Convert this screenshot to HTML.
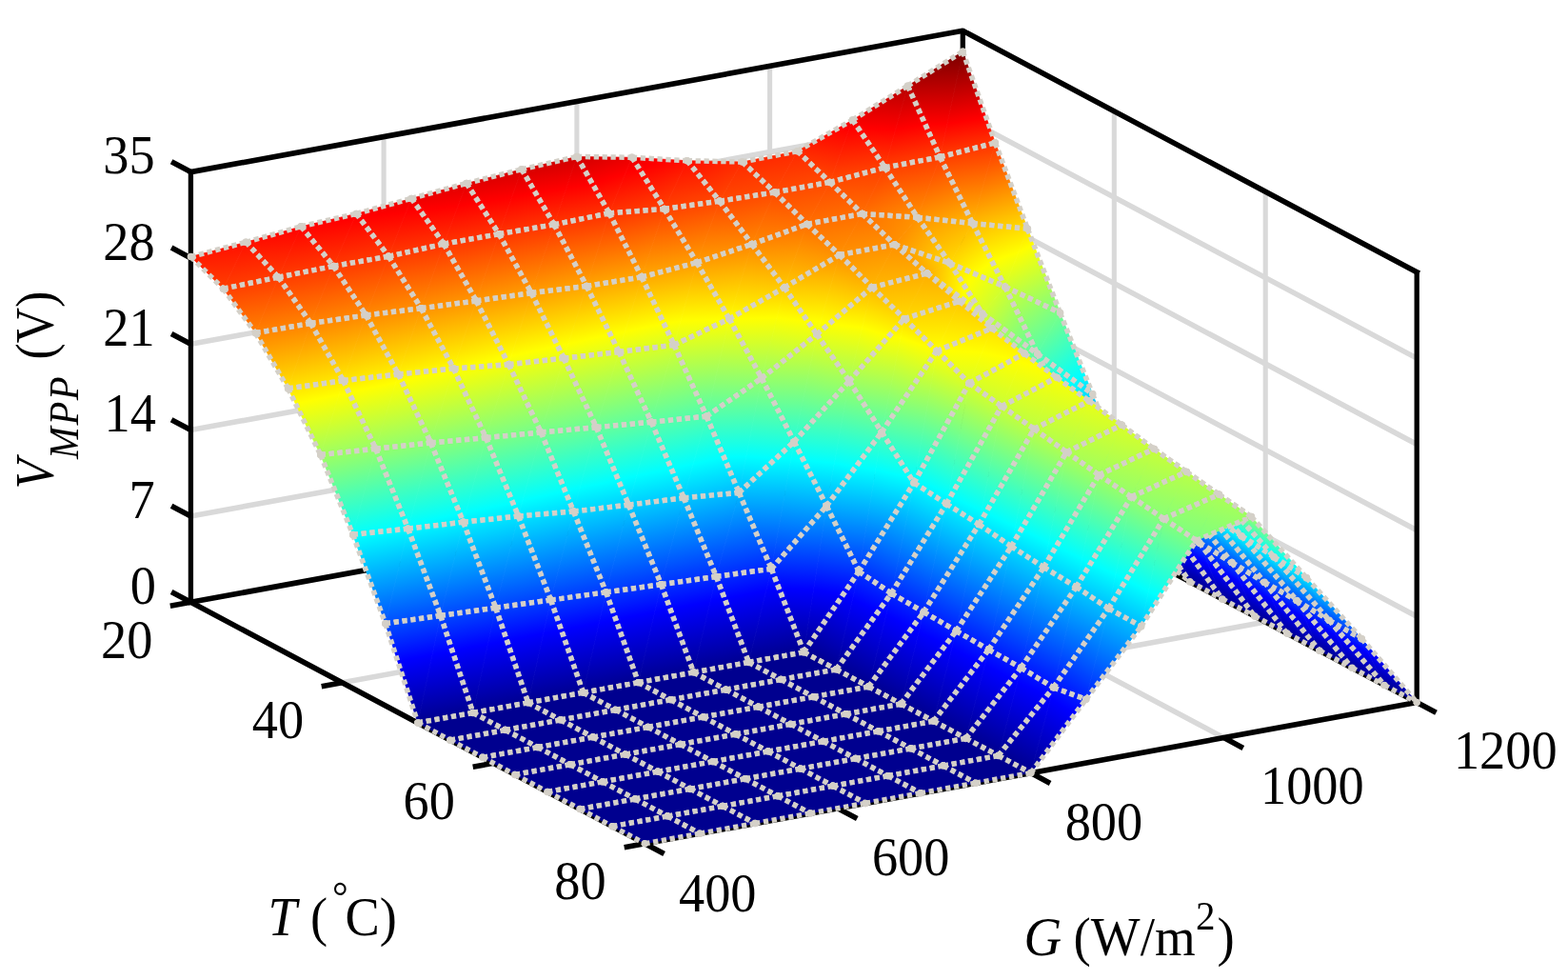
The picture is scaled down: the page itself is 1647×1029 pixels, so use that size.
<!DOCTYPE html>
<html lang="en"><head><meta charset="utf-8"><title>V_MPP surface</title>
<style>html,body{margin:0;padding:0;background:#fff}body{width:1647px;height:1029px;overflow:hidden}svg{display:block}text{font-family:"Liberation Serif",serif;fill:#000}</style></head><body>
<svg width="1647" height="1029" viewBox="0 0 1647 1029">
<rect width="1647" height="1029" fill="#fff"/>
<g fill="none" stroke="#d9d9d9"><path d="M200.4 542L1011.3 393.7M200.4 451.6L1011.3 303.3M200.4 361.3L1011.3 213M200.4 270.9L1011.3 122.6M1011.3 393.7L1488.2 647.2M1011.3 303.3L1488.2 556.8M1011.3 213L1488.2 466.5M1011.3 122.6L1488.2 376.1M359.4 716.8L1170.3 568.5M518.3 801.3L1329.2 653M403.1 595.2L880 848.7M605.9 558.1L1082.8 811.6M808.6 521.1L1285.5 774.6" stroke-width="5.6"/><path d="M403.1 595.2L403.1 143.5M605.9 558.1L605.9 106.4M808.6 521.1L808.6 69.4M1170.3 568.5L1170.3 116.8M1329.2 653L1329.2 201.3" stroke-width="5.1"/></g>
<g fill="none" stroke="#000" stroke-linejoin="bevel" stroke-linecap="square"><path d="M200.4 180.6L1011.3 32.3L1488.2 285.8M1488.2 737.5L677.3 885.8L200.4 632.3M200.4 632.3L1011.3 484L1488.2 737.5" stroke-width="5.7"/><path d="M200.4 632.3L200.4 180.6M1488.2 285.8L1488.2 737.5M1011.3 32.3L1011.3 484" stroke-width="5.3" stroke-linecap="butt"/></g>
<path d="M200.4 632.3L180.1 621.5M200.4 542L180.1 531.2M200.4 451.6L180.1 440.8M200.4 361.3L180.1 350.5M200.4 270.9L180.1 260.1M200.4 180.6L180.1 169.8M677.3 885.8L697.6 896.6M880 848.7L900.3 859.5M1082.8 811.6L1103.1 822.4M1285.5 774.6L1305.8 785.4M1488.2 737.5L1508.5 748.3M200.4 632.3L178.8 636.3M359.4 716.8L337.7 720.8M518.3 801.3L496.7 805.3M677.3 885.8L655.7 889.8" fill="none" stroke="#000" stroke-width="5.7"/>
<defs><linearGradient id="J" gradientUnits="userSpaceOnUse"><stop offset="0" stop-color="#00008f"/><stop offset="0.125" stop-color="#0000ff"/><stop offset="0.375" stop-color="#00ffff"/><stop offset="0.625" stop-color="#ffff00"/><stop offset="0.875" stop-color="#ff0000"/><stop offset="1" stop-color="#800000"/></linearGradient><linearGradient id="g1" href="#J" x1="971.5" y1="631.4" x2="952.4" y2="59.7"/><linearGradient id="g2" href="#J" x1="1098.8" y1="600.2" x2="1011.9" y2="57.6"/><linearGradient id="g3" href="#J" x1="870.1" y1="701.6" x2="898.7" y2="53.1"/><linearGradient id="g4" href="#J" x1="1053.8" y1="649.5" x2="947.7" y2="58.7"/><linearGradient id="g5" href="#J" x1="736.4" y1="815" x2="857.4" y2="29.8"/><linearGradient id="g6" href="#J" x1="974.4" y1="761.1" x2="885.5" y2="45.6"/><linearGradient id="g7" href="#J" x1="932" y1="1111.3" x2="749.3" y2="-17.1"/><linearGradient id="g8" href="#J" x1="1008" y1="1081.7" x2="804" y2="-22.6"/><linearGradient id="g9" href="#J" x1="1060.4" y1="890.1" x2="667.5" y2="53.3"/><linearGradient id="g10" href="#J" x1="995.4" y1="1141" x2="736.7" y2="-23"/><linearGradient id="g11" href="#J" x1="907.8" y1="784.9" x2="635.1" y2="92.5"/><linearGradient id="g12" href="#J" x1="884.4" y1="887.8" x2="695.7" y2="53.7"/><linearGradient id="g13" href="#J" x1="801.4" y1="772.3" x2="589.2" y2="112.8"/><linearGradient id="g14" href="#J" x1="828.8" y1="790.7" x2="644.4" y2="91.8"/><linearGradient id="g15" href="#J" x1="641.6" y1="782.7" x2="539.2" y2="121.7"/><linearGradient id="g16" href="#J" x1="707.4" y1="768.3" x2="597.2" y2="113.1"/><linearGradient id="g17" href="#J" x1="576" y1="817.8" x2="481" y2="127.3"/><linearGradient id="g18" href="#J" x1="663.9" y1="787" x2="537.2" y2="121.3"/><linearGradient id="g19" href="#J" x1="507.1" y1="864.1" x2="423.1" y2="129.9"/><linearGradient id="g20" href="#J" x1="607.3" y1="825.7" x2="477.8" y2="126.5"/><linearGradient id="g21" href="#J" x1="446.8" y1="897.9" x2="364.3" y2="133"/><linearGradient id="g22" href="#J" x1="531.1" y1="873.1" x2="420.2" y2="128.8"/><linearGradient id="g23" href="#J" x1="414.6" y1="957.5" x2="302.1" y2="134"/><linearGradient id="g24" href="#J" x1="506.3" y1="919.8" x2="356.2" y2="130"/><linearGradient id="g25" href="#J" x1="311.5" y1="1020" x2="249.7" y2="129.7"/><linearGradient id="g26" href="#J" x1="435.6" y1="966.1" x2="299" y2="132.8"/><linearGradient id="g27" href="#J" x1="263.1" y1="1111" x2="189.3" y2="119.9"/><linearGradient id="g28" href="#J" x1="380" y1="1059.8" x2="238.5" y2="123.2"/><linearGradient id="g29" href="#J" x1="1061.1" y1="658.3" x2="970.6" y2="52.3"/><linearGradient id="g30" href="#J" x1="1177.2" y1="600.5" x2="1017.2" y2="53.9"/><linearGradient id="g31" href="#J" x1="1031.3" y1="749.6" x2="906.1" y2="44.1"/><linearGradient id="g32" href="#J" x1="1159.8" y1="655.3" x2="948.1" y2="53"/><linearGradient id="g33" href="#J" x1="927.5" y1="994.4" x2="857.8" y2="-7.2"/><linearGradient id="g34" href="#J" x1="1168.8" y1="750.4" x2="874.5" y2="43.9"/><linearGradient id="g35" href="#J" x1="972" y1="1059.4" x2="774.5" y2="-10"/><linearGradient id="g36" href="#J" x1="1024.8" y1="1054.5" x2="833.7" y2="-22.1"/><linearGradient id="g37" href="#J" x1="884.3" y1="846.2" x2="724.6" y2="57.2"/><linearGradient id="g38" href="#J" x1="797.5" y1="931" x2="817.7" y2="21.8"/><linearGradient id="g39" href="#J" x1="813.6" y1="770.3" x2="670.7" y2="90.6"/><linearGradient id="g40" href="#J" x1="797.4" y1="811.8" x2="745.7" y2="65.6"/><linearGradient id="g41" href="#J" x1="763.2" y1="735.6" x2="613.8" y2="115.3"/><linearGradient id="g42" href="#J" x1="771.5" y1="761.6" x2="680.6" y2="92.6"/><linearGradient id="g43" href="#J" x1="669.6" y1="752.4" x2="562.9" y2="123.7"/><linearGradient id="g44" href="#J" x1="738.2" y1="734.6" x2="619.1" y2="115.5"/><linearGradient id="g45" href="#J" x1="624.6" y1="775.8" x2="502.5" y2="131.9"/><linearGradient id="g46" href="#J" x1="693.7" y1="754.9" x2="557.7" y2="123.1"/><linearGradient id="g47" href="#J" x1="565.8" y1="795.6" x2="444.8" y2="140.7"/><linearGradient id="g48" href="#J" x1="633.1" y1="776.8" x2="500.7" y2="131.7"/><linearGradient id="g49" href="#J" x1="495.1" y1="829.6" x2="388.9" y2="144.4"/><linearGradient id="g50" href="#J" x1="580.9" y1="797.5" x2="441.6" y2="140.3"/><linearGradient id="g51" href="#J" x1="460.6" y1="864.1" x2="325.9" y2="150"/><linearGradient id="g52" href="#J" x1="534.8" y1="837.1" x2="380" y2="142.7"/><linearGradient id="g53" href="#J" x1="394.1" y1="896.7" x2="269.5" y2="154.8"/><linearGradient id="g54" href="#J" x1="474" y1="866.7" x2="322.9" y2="149.5"/><linearGradient id="g55" href="#J" x1="334.6" y1="922.9" x2="211.4" y2="160.4"/><linearGradient id="g56" href="#J" x1="407.6" y1="900.3" x2="266.4" y2="154"/><linearGradient id="g57" href="#J" x1="1174.7" y1="661" x2="953.8" y2="46.1"/><linearGradient id="g58" href="#J" x1="1251.5" y1="574" x2="988.9" y2="64.8"/><linearGradient id="g59" href="#J" x1="1252.1" y1="768.4" x2="858.3" y2="31.4"/><linearGradient id="g60" href="#J" x1="1285.5" y1="601" x2="904.8" y2="72.6"/><linearGradient id="g61" href="#J" x1="1745" y1="902.9" x2="649.7" y2="17.8"/><linearGradient id="g62" href="#J" x1="1424" y1="606.1" x2="795.5" y2="90.6"/><linearGradient id="g63" href="#J" x1="999.5" y1="1092.1" x2="801.3" y2="-26.5"/><linearGradient id="g64" href="#J" x1="1057.6" y1="1081.8" x2="859.3" y2="-36.8"/><linearGradient id="g65" href="#J" x1="817.7" y1="801.5" x2="780.1" y2="66.3"/><linearGradient id="g66" href="#J" x1="746.4" y1="828.4" x2="878.7" y2="54.2"/><linearGradient id="g67" href="#J" x1="780" y1="741.6" x2="713.3" y2="95.5"/><linearGradient id="g68" href="#J" x1="765.4" y1="762.5" x2="798.4" y2="79.9"/><linearGradient id="g69" href="#J" x1="737.2" y1="717.1" x2="648.2" y2="117.1"/><linearGradient id="g70" href="#J" x1="751.7" y1="730.4" x2="724.2" y2="99.8"/><linearGradient id="g71" href="#J" x1="699.7" y1="736.1" x2="582.3" y2="124.9"/><linearGradient id="g72" href="#J" x1="763.9" y1="719.6" x2="637.3" y2="116.1"/><linearGradient id="g73" href="#J" x1="652.2" y1="750.2" x2="521.7" y2="136.2"/><linearGradient id="g74" href="#J" x1="710.7" y1="736.7" x2="577.9" y2="124.7"/><linearGradient id="g75" href="#J" x1="591.7" y1="767" x2="465.7" y2="145.8"/><linearGradient id="g76" href="#J" x1="654.8" y1="750.3" x2="520.7" y2="136.1"/><linearGradient id="g77" href="#J" x1="540.3" y1="791.1" x2="406.5" y2="153.2"/><linearGradient id="g78" href="#J" x1="609.2" y1="767.7" x2="459.1" y2="145.6"/><linearGradient id="g79" href="#J" x1="487.4" y1="808.5" x2="348.2" y2="163.6"/><linearGradient id="g80" href="#J" x1="549.1" y1="791.7" x2="403.3" y2="153"/><linearGradient id="g81" href="#J" x1="426.5" y1="827.8" x2="292.2" y2="172.6"/><linearGradient id="g82" href="#J" x1="491.4" y1="808.8" x2="346.8" y2="163.5"/><linearGradient id="g83" href="#J" x1="361.7" y1="846.2" x2="236.8" y2="180.9"/><linearGradient id="g84" href="#J" x1="427.8" y1="828" x2="291.8" y2="172.6"/><linearGradient id="g85" href="#J" x1="1267.7" y1="598.5" x2="901.9" y2="85.8"/><linearGradient id="g86" href="#J" x1="1284.6" y1="543.2" x2="936.3" y2="106.1"/><linearGradient id="g87" href="#J" x1="1376" y1="580.2" x2="805.2" y2="121.8"/><linearGradient id="g88" href="#J" x1="1316.1" y1="512.8" x2="866.9" y2="147.9"/><linearGradient id="g89" href="#J" x1="1348.3" y1="57.7" x2="791" y2="329.5"/><linearGradient id="g90" href="#J" x1="1336.1" y1="332" x2="825.5" y2="248.1"/><linearGradient id="g91" href="#J" x1="1017.2" y1="1029.2" x2="832.4" y2="-10.2"/><linearGradient id="g92" href="#J" x1="990.8" y1="1093.7" x2="921.1" y2="-47.7"/><linearGradient id="g93" href="#J" x1="806.9" y1="747" x2="832" y2="89.9"/><linearGradient id="g94" href="#J" x1="767.6" y1="749.9" x2="923.5" y2="91.8"/><linearGradient id="g95" href="#J" x1="773.5" y1="715" x2="761.4" y2="106.8"/><linearGradient id="g96" href="#J" x1="780.3" y1="722.3" x2="844.7" y2="101.6"/><linearGradient id="g97" href="#J" x1="734.1" y1="701.8" x2="689.6" y2="122.1"/><linearGradient id="g98" href="#J" x1="759.4" y1="707.4" x2="769.9" y2="111.4"/><linearGradient id="g99" href="#J" x1="723.8" y1="722.6" x2="599.6" y2="127.7"/><linearGradient id="g100" href="#J" x1="783.3" y1="708.5" x2="654.8" y2="117.3"/><linearGradient id="g101" href="#J" x1="669.7" y1="737.4" x2="541.1" y2="138"/><linearGradient id="g102" href="#J" x1="729.4" y1="722.6" x2="595.8" y2="127.6"/><linearGradient id="g103" href="#J" x1="614.3" y1="752.2" x2="483.6" y2="148.6"/><linearGradient id="g104" href="#J" x1="673.7" y1="737.5" x2="538.4" y2="138"/><linearGradient id="g105" href="#J" x1="564.4" y1="762.5" x2="423.9" y2="163.6"/><linearGradient id="g106" href="#J" x1="617.2" y1="752.3" x2="481.7" y2="148.6"/><linearGradient id="g107" href="#J" x1="503" y1="776.4" x2="370.4" y2="175.1"/><linearGradient id="g108" href="#J" x1="561.1" y1="762.5" x2="425.9" y2="163.5"/><linearGradient id="g109" href="#J" x1="444.8" y1="789.3" x2="314.5" y2="187.1"/><linearGradient id="g110" href="#J" x1="502.1" y1="776.4" x2="370.8" y2="175.1"/><linearGradient id="g111" href="#J" x1="383.2" y1="805.4" x2="259.7" y2="196.2"/><linearGradient id="g112" href="#J" x1="445.6" y1="789.3" x2="314.1" y2="187.1"/><linearGradient id="g113" href="#J" x1="1304.2" y1="527.4" x2="835.3" y2="186.8"/><linearGradient id="g114" href="#J" x1="1280.3" y1="513.8" x2="882.7" y2="214.3"/><linearGradient id="g115" href="#J" x1="1298" y1="321.8" x2="839.9" y2="334.7"/><linearGradient id="g116" href="#J" x1="1275.3" y1="414.4" x2="869.5" y2="320.8"/><linearGradient id="g117" href="#J" x1="1007.7" y1="250.8" x2="959.6" y2="302.2"/><linearGradient id="g118" href="#J" x1="1124.6" y1="289.9" x2="964.8" y2="357.7"/><linearGradient id="g119" href="#J" x1="973.1" y1="1014.9" x2="890.8" y2="-10.8"/><linearGradient id="g120" href="#J" x1="956.9" y1="1053.4" x2="980.9" y2="-33.6"/><linearGradient id="g121" href="#J" x1="813.6" y1="720.9" x2="887" y2="109.2"/><linearGradient id="g122" href="#J" x1="789" y1="713.2" x2="971.5" y2="121.5"/><linearGradient id="g123" href="#J" x1="790.5" y1="697.8" x2="808.8" y2="121.4"/><linearGradient id="g124" href="#J" x1="796.8" y1="699.8" x2="898" y2="123"/><linearGradient id="g125" href="#J" x1="749" y1="689.7" x2="733.7" y2="131.9"/><linearGradient id="g126" href="#J" x1="781.9" y1="692.4" x2="816.7" y2="126.4"/><linearGradient id="g127" href="#J" x1="741.6" y1="710.7" x2="617.6" y2="133.4"/><linearGradient id="g128" href="#J" x1="799.2" y1="697.7" x2="673.1" y2="122.2"/><linearGradient id="g129" href="#J" x1="685.9" y1="720.7" x2="560.4" y2="148.6"/><linearGradient id="g130" href="#J" x1="739.3" y1="710.7" x2="620.3" y2="133.4"/><linearGradient id="g131" href="#J" x1="628.9" y1="731.1" x2="504.8" y2="162.9"/><linearGradient id="g132" href="#J" x1="682.9" y1="720.7" x2="563.8" y2="148.5"/><linearGradient id="g133" href="#J" x1="572.1" y1="744.2" x2="448.5" y2="174.3"/><linearGradient id="g134" href="#J" x1="629.6" y1="731.1" x2="504" y2="163"/><linearGradient id="g135" href="#J" x1="515.9" y1="755.3" x2="392" y2="187.8"/><linearGradient id="g136" href="#J" x1="570.8" y1="744.2" x2="449.8" y2="174.3"/><linearGradient id="g137" href="#J" x1="457.1" y1="766.6" x2="337.3" y2="200.5"/><linearGradient id="g138" href="#J" x1="512.7" y1="755.4" x2="395" y2="187.7"/><linearGradient id="g139" href="#J" x1="400.4" y1="778.8" x2="280.5" y2="212.3"/><linearGradient id="g140" href="#J" x1="457.3" y1="766.6" x2="337" y2="200.5"/><linearGradient id="g141" href="#J" x1="1255.6" y1="454.7" x2="869" y2="409.7"/><linearGradient id="g142" href="#J" x1="1243.7" y1="517.4" x2="890" y2="415.6"/><linearGradient id="g143" href="#J" x1="1130.5" y1="345.2" x2="1003.6" y2="409.3"/><linearGradient id="g144" href="#J" x1="1190.9" y1="426.1" x2="994" y2="464.9"/><linearGradient id="g145" href="#J" x1="974.2" y1="360.6" x2="1023.8" y2="295.5"/><linearGradient id="g146" href="#J" x1="1064.6" y1="378.8" x2="1066.9" y2="377"/><linearGradient id="g147" href="#J" x1="964.6" y1="955.6" x2="942.4" y2="15.8"/><linearGradient id="g148" href="#J" x1="925.7" y1="987.6" x2="1046.8" y2="-1.4"/><linearGradient id="g149" href="#J" x1="844.5" y1="701.5" x2="933.9" y2="135.2"/><linearGradient id="g150" href="#J" x1="828" y1="690" x2="1012.6" y2="152.2"/><linearGradient id="g151" href="#J" x1="813.1" y1="688.8" x2="864.6" y2="137.4"/><linearGradient id="g152" href="#J" x1="836.1" y1="690.6" x2="941.3" y2="144.8"/><linearGradient id="g153" href="#J" x1="772.2" y1="685.2" x2="785.2" y2="139.1"/><linearGradient id="g154" href="#J" x1="811.5" y1="687.5" x2="866.9" y2="139.2"/><linearGradient id="g155" href="#J" x1="757.8" y1="704.6" x2="633.9" y2="135.5"/><linearGradient id="g156" href="#J" x1="811.6" y1="694.4" x2="696.2" y2="118.4"/><linearGradient id="g157" href="#J" x1="698.3" y1="715.6" x2="582.2" y2="148.5"/><linearGradient id="g158" href="#J" x1="754.4" y1="704.7" x2="641.2" y2="135.3"/><linearGradient id="g159" href="#J" x1="641.6" y1="726.4" x2="524.9" y2="162.3"/><linearGradient id="g160" href="#J" x1="697.2" y1="715.7" x2="584.5" y2="148.5"/><linearGradient id="g161" href="#J" x1="586.9" y1="736.2" x2="465.4" y2="179.6"/><linearGradient id="g162" href="#J" x1="639.9" y1="726.4" x2="528.1" y2="162.3"/><linearGradient id="g163" href="#J" x1="528.1" y1="746.8" x2="412.4" y2="193.9"/><linearGradient id="g164" href="#J" x1="582.9" y1="736.4" x2="472.8" y2="179.3"/><linearGradient id="g165" href="#J" x1="470" y1="757.6" x2="357.4" y2="207.1"/><linearGradient id="g166" href="#J" x1="525.7" y1="746.9" x2="416.7" y2="193.7"/><linearGradient id="g167" href="#J" x1="413.8" y1="767.9" x2="299.8" y2="221.4"/><linearGradient id="g168" href="#J" x1="468.5" y1="757.6" x2="360.1" y2="206.9"/><linearGradient id="g169" href="#J" x1="1136.7" y1="534.3" x2="1226.3" y2="399.8"/><linearGradient id="g170" href="#J" x1="1213.5" y1="585.3" x2="1302.7" y2="458.2"/><linearGradient id="g171" href="#J" x1="1060.5" y1="484.4" x2="1149.3" y2="349"/><linearGradient id="g172" href="#J" x1="1136.9" y1="534" x2="1225.6" y2="400.9"/><linearGradient id="g173" href="#J" x1="983.3" y1="432.9" x2="1072.9" y2="298.3"/><linearGradient id="g174" href="#J" x1="1060.1" y1="485.1" x2="1149.7" y2="348.2"/><linearGradient id="g175" href="#J" x1="955.9" y1="910.2" x2="1000.9" y2="42"/><linearGradient id="g176" href="#J" x1="903.9" y1="924.8" x2="1114.8" y2="38.7"/><linearGradient id="g177" href="#J" x1="874.7" y1="693.6" x2="989.2" y2="159.5"/><linearGradient id="g178" href="#J" x1="866.8" y1="682.5" x2="1054.7" y2="179.2"/><linearGradient id="g179" href="#J" x1="848" y1="687.3" x2="917" y2="153.6"/><linearGradient id="g180" href="#J" x1="871.7" y1="688.8" x2="992.9" y2="165.4"/><linearGradient id="g181" href="#J" x1="806.3" y1="683.2" x2="830.4" y2="155.1"/><linearGradient id="g182" href="#J" x1="845.5" y1="685.1" x2="923" y2="159"/><linearGradient id="g183" href="#J" x1="770.7" y1="698.6" x2="661.3" y2="145.4"/><linearGradient id="g184" href="#J" x1="826.8" y1="688.1" x2="724.7" y2="129.7"/><linearGradient id="g185" href="#J" x1="713.2" y1="709.1" x2="605.3" y2="160.5"/><linearGradient id="g186" href="#J" x1="769.3" y1="698.6" x2="668.2" y2="145.3"/><linearGradient id="g187" href="#J" x1="655.6" y1="719.6" x2="548.8" y2="175.2"/><linearGradient id="g188" href="#J" x1="711.8" y1="709.1" x2="611.5" y2="160.3"/><linearGradient id="g189" href="#J" x1="598.1" y1="730.1" x2="492.3" y2="189.7"/><linearGradient id="g190" href="#J" x1="654.3" y1="719.6" x2="554.7" y2="175.1"/><linearGradient id="g191" href="#J" x1="540.6" y1="740.6" x2="435.8" y2="204"/><linearGradient id="g192" href="#J" x1="596.8" y1="730.2" x2="498" y2="189.5"/><linearGradient id="g193" href="#J" x1="483.1" y1="751.1" x2="379.1" y2="218.1"/><linearGradient id="g194" href="#J" x1="539.3" y1="740.7" x2="441.2" y2="203.8"/><linearGradient id="g195" href="#J" x1="425.6" y1="761.6" x2="322.5" y2="231.9"/><linearGradient id="g196" href="#J" x1="481.8" y1="751.2" x2="384.3" y2="217.8"/><linearGradient id="g197" href="#J" x1="1170.9" y1="566.7" x2="1268" y2="392.6"/><linearGradient id="g198" href="#J" x1="1249.8" y1="610.8" x2="1345.6" y2="430.4"/><linearGradient id="g199" href="#J" x1="1094.6" y1="514.8" x2="1187.1" y2="363"/><linearGradient id="g200" href="#J" x1="1172.1" y1="564.3" x2="1263.4" y2="401.3"/><linearGradient id="g201" href="#J" x1="1018.5" y1="460.7" x2="1109" y2="319.9"/><linearGradient id="g202" href="#J" x1="1095.5" y1="513" x2="1185.8" y2="365.4"/><linearGradient id="g203" href="#J" x1="862" y1="942.9" x2="1127.9" y2="22.1"/><linearGradient id="g204" href="#J" x1="924.1" y1="958.1" x2="1163.3" y2="33.9"/><linearGradient id="g205" href="#J" x1="873.4" y1="686" x2="1110" y2="198"/><linearGradient id="g206" href="#J" x1="884.7" y1="693.4" x2="1111.9" y2="197.6"/><linearGradient id="g207" href="#J" x1="860.9" y1="688.8" x2="1099" y2="178"/><linearGradient id="g208" href="#J" x1="871.1" y1="692.9" x2="1114" y2="186.1"/><linearGradient id="g209" href="#J" x1="844.3" y1="684.9" x2="1120.2" y2="165.8"/><linearGradient id="g210" href="#J" x1="859.4" y1="694.4" x2="1106.3" y2="151.4"/><linearGradient id="g211" href="#J" x1="1205.8" y1="584.5" x2="1300.9" y2="417.2"/><linearGradient id="g212" href="#J" x1="1283.8" y1="628.9" x2="1377.3" y2="453"/><linearGradient id="g213" href="#J" x1="1130.8" y1="536.4" x2="1220.7" y2="384.2"/><linearGradient id="g214" href="#J" x1="1207" y1="582.3" x2="1296.4" y2="425.5"/><linearGradient id="g215" href="#J" x1="1055.1" y1="483.1" x2="1143.9" y2="343"/><linearGradient id="g216" href="#J" x1="1131.4" y1="535.2" x2="1219.8" y2="385.8"/><linearGradient id="g217" href="#J" x1="891.6" y1="970.3" x2="1172" y2="20.7"/><linearGradient id="g218" href="#J" x1="952.1" y1="985.7" x2="1207.6" y2="32.8"/><linearGradient id="g219" href="#J" x1="908.7" y1="704.7" x2="1147.8" y2="213.5"/><linearGradient id="g220" href="#J" x1="920.2" y1="712.1" x2="1150.6" y2="213.6"/><linearGradient id="g221" href="#J" x1="894.7" y1="704.5" x2="1151.3" y2="202.9"/><linearGradient id="g222" href="#J" x1="906.3" y1="711.7" x2="1152.2" y2="200.9"/><linearGradient id="g223" href="#J" x1="878.4" y1="703" x2="1161.3" y2="170.7"/><linearGradient id="g224" href="#J" x1="891.9" y1="710.7" x2="1165.8" y2="170.5"/><linearGradient id="g225" href="#J" x1="1241" y1="603.2" x2="1333.4" y2="440.8"/><linearGradient id="g226" href="#J" x1="1317.9" y1="647" x2="1408.8" y2="475.8"/><linearGradient id="g227" href="#J" x1="1166.9" y1="552.8" x2="1253.9" y2="411"/><linearGradient id="g228" href="#J" x1="1242.2" y1="600.9" x2="1328.6" y2="449.7"/><linearGradient id="g229" href="#J" x1="1093.2" y1="499.4" x2="1177.6" y2="369.5"/><linearGradient id="g230" href="#J" x1="1167.9" y1="550.9" x2="1252.4" y2="413.8"/><linearGradient id="g231" href="#J" x1="939" y1="986.1" x2="1202.2" y2="28.2"/><linearGradient id="g232" href="#J" x1="1003" y1="1000.4" x2="1237" y2="39.9"/><linearGradient id="g233" href="#J" x1="946.8" y1="724.4" x2="1180.2" y2="227"/><linearGradient id="g234" href="#J" x1="958.4" y1="730.8" x2="1186.9" y2="229.4"/><linearGradient id="g235" href="#J" x1="929.6" y1="723.1" x2="1186.6" y2="216.5"/><linearGradient id="g236" href="#J" x1="944.5" y1="732.6" x2="1184.5" y2="211.9"/><linearGradient id="g237" href="#J" x1="912.4" y1="721.1" x2="1197.6" y2="184.6"/><linearGradient id="g238" href="#J" x1="926.9" y1="729.4" x2="1201" y2="183.3"/><linearGradient id="g239" href="#J" x1="1276.2" y1="621.8" x2="1365.8" y2="464.8"/><linearGradient id="g240" href="#J" x1="1351.9" y1="665.1" x2="1440.2" y2="499"/><linearGradient id="g241" href="#J" x1="1202.7" y1="575" x2="1287.9" y2="431.5"/><linearGradient id="g242" href="#J" x1="1277.1" y1="620.1" x2="1362" y2="471.9"/><linearGradient id="g243" href="#J" x1="1130.3" y1="519.5" x2="1211.9" y2="394.7"/><linearGradient id="g244" href="#J" x1="1204.1" y1="572.5" x2="1285.8" y2="435.4"/><linearGradient id="g245" href="#J" x1="973.3" y1="1011.5" x2="1243.1" y2="26.1"/><linearGradient id="g246" href="#J" x1="1043.7" y1="1025.9" x2="1273" y2="37.7"/><linearGradient id="g247" href="#J" x1="981" y1="741.5" x2="1222.1" y2="244.7"/><linearGradient id="g248" href="#J" x1="994.6" y1="750" x2="1225.3" y2="244.7"/><linearGradient id="g249" href="#J" x1="964" y1="742" x2="1225.1" y2="228.3"/><linearGradient id="g250" href="#J" x1="978" y1="750.3" x2="1228" y2="227.4"/><linearGradient id="g251" href="#J" x1="946.5" y1="739.2" x2="1234.4" y2="197.6"/><linearGradient id="g252" href="#J" x1="961.5" y1="747.7" x2="1238.8" y2="197"/><linearGradient id="g253" href="#J" x1="1311.2" y1="641.9" x2="1398.7" y2="483"/><linearGradient id="g254" href="#J" x1="1386" y1="683.2" x2="1472.9" y2="519.8"/><linearGradient id="g255" href="#J" x1="1238.2" y1="594.5" x2="1321.7" y2="454.1"/><linearGradient id="g256" href="#J" x1="1312.1" y1="640.2" x2="1394.9" y2="490.3"/><linearGradient id="g257" href="#J" x1="1167.3" y1="542.5" x2="1246.1" y2="417.9"/><linearGradient id="g258" href="#J" x1="1239.9" y1="591.3" x2="1318.9" y2="459.2"/><linearGradient id="g259" href="#J" x1="991.7" y1="1052.3" x2="1298" y2="9.5"/><linearGradient id="g260" href="#J" x1="1059" y1="1067.9" x2="1327.8" y2="21.5"/><linearGradient id="g261" href="#J" x1="1014.9" y1="759.7" x2="1262.8" y2="260.8"/><linearGradient id="g262" href="#J" x1="1028.4" y1="768.4" x2="1265.6" y2="260.5"/><linearGradient id="g263" href="#J" x1="998.2" y1="760.3" x2="1264.8" y2="243.1"/><linearGradient id="g264" href="#J" x1="1011.6" y1="768.2" x2="1269.6" y2="243.5"/><linearGradient id="g265" href="#J" x1="980.6" y1="757.3" x2="1271.1" y2="210.7"/><linearGradient id="g266" href="#J" x1="995.7" y1="765.7" x2="1279" y2="212.8"/><linearGradient id="g267" href="#J" x1="1346" y1="658.9" x2="1431" y2="510.4"/><linearGradient id="g268" href="#J" x1="1420.1" y1="701.3" x2="1504" y2="543.4"/><linearGradient id="g269" href="#J" x1="1274.4" y1="612.7" x2="1354.2" y2="478.9"/><linearGradient id="g270" href="#J" x1="1347" y1="657" x2="1426.7" y2="518.3"/><linearGradient id="g271" href="#J" x1="1204.2" y1="561.7" x2="1279.9" y2="442.5"/><linearGradient id="g272" href="#J" x1="1275.8" y1="610.1" x2="1351.8" y2="483.3"/><linearGradient id="g273" href="#J" x1="1026.8" y1="1080.6" x2="1337.9" y2="4.6"/><linearGradient id="g274" href="#J" x1="1099" y1="1095.9" x2="1363.8" y2="16.6"/><linearGradient id="g275" href="#J" x1="1053.2" y1="780.1" x2="1292.5" y2="272.9"/><linearGradient id="g276" href="#J" x1="1064.8" y1="785.7" x2="1302.8" y2="277.5"/><linearGradient id="g277" href="#J" x1="1034.2" y1="779.3" x2="1292.2" y2="254.7"/><linearGradient id="g278" href="#J" x1="1050.7" y1="788.5" x2="1297.7" y2="255.2"/><linearGradient id="g279" href="#J" x1="1014.6" y1="775.4" x2="1307.1" y2="225.3"/><linearGradient id="g280" href="#J" x1="1031.9" y1="785.4" x2="1305.4" y2="219.8"/><linearGradient id="g281" href="#J" x1="1380.9" y1="679" x2="1463.9" y2="528.8"/><linearGradient id="g282" href="#J" x1="1454.1" y1="719.4" x2="1536.5" y2="564.5"/><linearGradient id="g283" href="#J" x1="1309.8" y1="632.3" x2="1387.8" y2="501.9"/><linearGradient id="g284" href="#J" x1="1381.9" y1="677.2" x2="1459.5" y2="536.9"/><linearGradient id="g285" href="#J" x1="1240.4" y1="583.3" x2="1314.1" y2="465.4"/><linearGradient id="g286" href="#J" x1="1311.3" y1="629.6" x2="1385.2" y2="506.5"/><linearGradient id="g287" href="#J" x1="1065.1" y1="1110.3" x2="1374.8" y2="-2.8"/><linearGradient id="g288" href="#J" x1="1122.6" y1="1124.1" x2="1413.3" y2="9.8"/><linearGradient id="g289" href="#J" x1="1083.1" y1="794.9" x2="1343.9" y2="295.5"/><linearGradient id="g290" href="#J" x1="1100.2" y1="807.3" x2="1340.8" y2="290.5"/><linearGradient id="g291" href="#J" x1="1060.5" y1="793.5" x2="1383.6" y2="292.1"/><linearGradient id="g292" href="#J" x1="1076.3" y1="808.7" x2="1358.9" y2="265.1"/><linearGradient id="g293" href="#J" x1="1048.7" y1="793.5" x2="1346" y2="234.2"/><linearGradient id="g294" href="#J" x1="1058.3" y1="795.6" x2="1396.8" y2="279.4"/></defs>
<style>.s path{stroke-width:.8;stroke-linejoin:round}.s .e,.s .v{fill:none;stroke:#d4d0c8;stroke-width:5.5;stroke-dasharray:5.3 3.6}.s .v{stroke-width:7.5;stroke-dasharray:none;stroke-linecap:round}</style>
<g class="s"><path d="M953.4 90.2L1011.3 54.1L987.4 165Z" fill="url(#g1)" stroke="url(#g1)"/>
<path d="M1011.3 54.1L1045.4 150L987.4 165Z" fill="url(#g2)" stroke="url(#g2)"/>
<path class="e" d="M953.4 90.2L1011.3 54.1M953.4 90.2L987.4 165M987.4 165L1045.4 150M1011.3 54.1L1045.4 150"/>
<path class="v" d="M953.4 90.2h0M1011.3 54.1h0M1045.4 150h0M987.4 165h0"/>
<path d="M895.5 126L953.4 90.2L929.5 176Z" fill="url(#g3)" stroke="url(#g3)"/>
<path d="M953.4 90.2L987.4 165L929.5 176Z" fill="url(#g4)" stroke="url(#g4)"/>
<path class="e" d="M895.5 126L953.4 90.2M895.5 126L929.5 176M929.5 176L987.4 165M953.4 90.2L987.4 165"/>
<path class="v" d="M895.5 126h0M953.4 90.2h0M987.4 165h0M929.5 176h0"/>
<path d="M837.5 158.7L895.5 126L871.6 191.4Z" fill="url(#g5)" stroke="url(#g5)"/>
<path d="M895.5 126L929.5 176L871.6 191.4Z" fill="url(#g6)" stroke="url(#g6)"/>
<path class="e" d="M837.5 158.7L895.5 126M837.5 158.7L871.6 191.4M871.6 191.4L929.5 176M895.5 126L929.5 176"/>
<path class="v" d="M837.5 158.7h0M895.5 126h0M929.5 176h0M871.6 191.4h0"/>
<path d="M779.6 170L837.5 158.7L813.7 202Z" fill="url(#g7)" stroke="url(#g7)"/>
<path d="M837.5 158.7L871.6 191.4L813.7 202Z" fill="url(#g8)" stroke="url(#g8)"/>
<path class="e" d="M779.6 170L837.5 158.7M779.6 170L813.7 202M813.7 202L871.6 191.4M837.5 158.7L871.6 191.4"/>
<path class="v" d="M779.6 170h0M837.5 158.7h0M871.6 191.4h0M813.7 202h0"/>
<path d="M721.7 168.7L779.6 170L755.8 211.3Z" fill="url(#g9)" stroke="url(#g9)"/>
<path d="M779.6 170L813.7 202L755.8 211.3Z" fill="url(#g10)" stroke="url(#g10)"/>
<path class="e" d="M721.7 168.7L779.6 170M721.7 168.7L755.8 211.3M755.8 211.3L813.7 202M779.6 170L813.7 202"/>
<path class="v" d="M721.7 168.7h0M779.6 170h0M813.7 202h0M755.8 211.3h0"/>
<path d="M663.8 165.3L721.7 168.7L697.8 219.5Z" fill="url(#g11)" stroke="url(#g11)"/>
<path d="M721.7 168.7L755.8 211.3L697.8 219.5Z" fill="url(#g12)" stroke="url(#g12)"/>
<path class="e" d="M663.8 165.3L721.7 168.7M663.8 165.3L697.8 219.5M697.8 219.5L755.8 211.3M721.7 168.7L755.8 211.3"/>
<path class="v" d="M663.8 165.3h0M721.7 168.7h0M755.8 211.3h0M697.8 219.5h0"/>
<path d="M605.9 164.5L663.8 165.3L639.9 223.9Z" fill="url(#g13)" stroke="url(#g13)"/>
<path d="M663.8 165.3L697.8 219.5L639.9 223.9Z" fill="url(#g14)" stroke="url(#g14)"/>
<path class="e" d="M605.9 164.5L663.8 165.3M605.9 164.5L639.9 223.9M639.9 223.9L697.8 219.5M663.8 165.3L697.8 219.5"/>
<path class="v" d="M605.9 164.5h0M663.8 165.3h0M697.8 219.5h0M639.9 223.9h0"/>
<path d="M547.9 177.8L605.9 164.5L582 235.9Z" fill="url(#g15)" stroke="url(#g15)"/>
<path d="M605.9 164.5L639.9 223.9L582 235.9Z" fill="url(#g16)" stroke="url(#g16)"/>
<path class="e" d="M547.9 177.8L605.9 164.5M547.9 177.8L582 235.9M582 235.9L639.9 223.9M605.9 164.5L639.9 223.9"/>
<path class="v" d="M547.9 177.8h0M605.9 164.5h0M639.9 223.9h0M582 235.9h0"/>
<path d="M490 192.5L547.9 177.8L524.1 245.8Z" fill="url(#g17)" stroke="url(#g17)"/>
<path d="M547.9 177.8L582 235.9L524.1 245.8Z" fill="url(#g18)" stroke="url(#g18)"/>
<path class="e" d="M490 192.5L547.9 177.8M490 192.5L524.1 245.8M524.1 245.8L582 235.9M547.9 177.8L582 235.9"/>
<path class="v" d="M490 192.5h0M547.9 177.8h0M582 235.9h0M524.1 245.8h0"/>
<path d="M432.1 208.4L490 192.5L466.1 256.2Z" fill="url(#g19)" stroke="url(#g19)"/>
<path d="M490 192.5L524.1 245.8L466.1 256.2Z" fill="url(#g20)" stroke="url(#g20)"/>
<path class="e" d="M432.1 208.4L490 192.5M432.1 208.4L466.1 256.2M466.1 256.2L524.1 245.8M490 192.5L524.1 245.8"/>
<path class="v" d="M432.1 208.4h0M490 192.5h0M524.1 245.8h0M466.1 256.2h0"/>
<path d="M374.2 224.4L432.1 208.4L408.2 269.3Z" fill="url(#g21)" stroke="url(#g21)"/>
<path d="M432.1 208.4L466.1 256.2L408.2 269.3Z" fill="url(#g22)" stroke="url(#g22)"/>
<path class="e" d="M374.2 224.4L432.1 208.4M374.2 224.4L408.2 269.3M408.2 269.3L466.1 256.2M432.1 208.4L466.1 256.2"/>
<path class="v" d="M374.2 224.4h0M432.1 208.4h0M466.1 256.2h0M408.2 269.3h0"/>
<path d="M316.2 237.8L374.2 224.4L350.3 279.5Z" fill="url(#g23)" stroke="url(#g23)"/>
<path d="M374.2 224.4L408.2 269.3L350.3 279.5Z" fill="url(#g24)" stroke="url(#g24)"/>
<path class="e" d="M316.2 237.8L374.2 224.4M316.2 237.8L350.3 279.5M350.3 279.5L408.2 269.3M374.2 224.4L408.2 269.3"/>
<path class="v" d="M316.2 237.8h0M374.2 224.4h0M408.2 269.3h0M350.3 279.5h0"/>
<path d="M258.3 254.3L316.2 237.8L292.4 291.2Z" fill="url(#g25)" stroke="url(#g25)"/>
<path d="M316.2 237.8L350.3 279.5L292.4 291.2Z" fill="url(#g26)" stroke="url(#g26)"/>
<path class="e" d="M258.3 254.3L316.2 237.8M258.3 254.3L292.4 291.2M292.4 291.2L350.3 279.5M316.2 237.8L350.3 279.5"/>
<path class="v" d="M258.3 254.3h0M316.2 237.8h0M350.3 279.5h0M292.4 291.2h0"/>
<path d="M200.4 269.6L258.3 254.3L234.5 303.2Z" fill="url(#g27)" stroke="url(#g27)"/>
<path d="M258.3 254.3L292.4 291.2L234.5 303.2Z" fill="url(#g28)" stroke="url(#g28)"/>
<path class="e" d="M200.4 269.6L258.3 254.3M200.4 269.6L234.5 303.2M234.5 303.2L292.4 291.2M258.3 254.3L292.4 291.2"/>
<path class="v" d="M200.4 269.6h0M258.3 254.3h0M292.4 291.2h0M234.5 303.2h0"/>
<path d="M987.4 165L1045.4 150L1021.5 234.6Z" fill="url(#g29)" stroke="url(#g29)"/>
<path d="M1045.4 150L1079.4 240.3L1021.5 234.6Z" fill="url(#g30)" stroke="url(#g30)"/>
<path class="e" d="M987.4 165L1045.4 150M987.4 165L1021.5 234.6M1021.5 234.6L1079.4 240.3M1045.4 150L1079.4 240.3"/>
<path class="v" d="M987.4 165h0M1045.4 150h0M1079.4 240.3h0M1021.5 234.6h0"/>
<path d="M929.5 176L987.4 165L963.6 228.4Z" fill="url(#g31)" stroke="url(#g31)"/>
<path d="M987.4 165L1021.5 234.6L963.6 228.4Z" fill="url(#g32)" stroke="url(#g32)"/>
<path class="e" d="M929.5 176L987.4 165M929.5 176L963.6 228.4M963.6 228.4L1021.5 234.6M987.4 165L1021.5 234.6"/>
<path class="v" d="M929.5 176h0M987.4 165h0M1021.5 234.6h0M963.6 228.4h0"/>
<path d="M871.6 191.4L929.5 176L905.7 224.6Z" fill="url(#g33)" stroke="url(#g33)"/>
<path d="M929.5 176L963.6 228.4L905.7 224.6Z" fill="url(#g34)" stroke="url(#g34)"/>
<path class="e" d="M871.6 191.4L929.5 176M871.6 191.4L905.7 224.6M905.7 224.6L963.6 228.4M929.5 176L963.6 228.4"/>
<path class="v" d="M871.6 191.4h0M929.5 176h0M963.6 228.4h0M905.7 224.6h0"/>
<path d="M813.7 202L871.6 191.4L847.7 235.4Z" fill="url(#g35)" stroke="url(#g35)"/>
<path d="M871.6 191.4L905.7 224.6L847.7 235.4Z" fill="url(#g36)" stroke="url(#g36)"/>
<path class="e" d="M813.7 202L871.6 191.4M813.7 202L847.7 235.4M847.7 235.4L905.7 224.6M871.6 191.4L905.7 224.6"/>
<path class="v" d="M813.7 202h0M871.6 191.4h0M905.7 224.6h0M847.7 235.4h0"/>
<path d="M755.8 211.3L813.7 202L789.8 256.5Z" fill="url(#g37)" stroke="url(#g37)"/>
<path d="M813.7 202L847.7 235.4L789.8 256.5Z" fill="url(#g38)" stroke="url(#g38)"/>
<path class="e" d="M755.8 211.3L813.7 202M755.8 211.3L789.8 256.5M789.8 256.5L847.7 235.4M813.7 202L847.7 235.4"/>
<path class="v" d="M755.8 211.3h0M813.7 202h0M847.7 235.4h0M789.8 256.5h0"/>
<path d="M697.8 219.5L755.8 211.3L731.9 275.8Z" fill="url(#g39)" stroke="url(#g39)"/>
<path d="M755.8 211.3L789.8 256.5L731.9 275.8Z" fill="url(#g40)" stroke="url(#g40)"/>
<path class="e" d="M697.8 219.5L755.8 211.3M697.8 219.5L731.9 275.8M731.9 275.8L789.8 256.5M755.8 211.3L789.8 256.5"/>
<path class="v" d="M697.8 219.5h0M755.8 211.3h0M789.8 256.5h0M731.9 275.8h0"/>
<path d="M639.9 223.9L697.8 219.5L674 291Z" fill="url(#g41)" stroke="url(#g41)"/>
<path d="M697.8 219.5L731.9 275.8L674 291Z" fill="url(#g42)" stroke="url(#g42)"/>
<path class="e" d="M639.9 223.9L697.8 219.5M639.9 223.9L674 291M674 291L731.9 275.8M697.8 219.5L731.9 275.8"/>
<path class="v" d="M639.9 223.9h0M697.8 219.5h0M731.9 275.8h0M674 291h0"/>
<path d="M582 235.9L639.9 223.9L616.1 300.5Z" fill="url(#g43)" stroke="url(#g43)"/>
<path d="M639.9 223.9L674 291L616.1 300.5Z" fill="url(#g44)" stroke="url(#g44)"/>
<path class="e" d="M582 235.9L639.9 223.9M582 235.9L616.1 300.5M616.1 300.5L674 291M639.9 223.9L674 291"/>
<path class="v" d="M582 235.9h0M639.9 223.9h0M674 291h0M616.1 300.5h0"/>
<path d="M524.1 245.8L582 235.9L558.1 307.7Z" fill="url(#g45)" stroke="url(#g45)"/>
<path d="M582 235.9L616.1 300.5L558.1 307.7Z" fill="url(#g46)" stroke="url(#g46)"/>
<path class="e" d="M524.1 245.8L582 235.9M524.1 245.8L558.1 307.7M558.1 307.7L616.1 300.5M582 235.9L616.1 300.5"/>
<path class="v" d="M524.1 245.8h0M582 235.9h0M616.1 300.5h0M558.1 307.7h0"/>
<path d="M466.1 256.2L524.1 245.8L500.2 316Z" fill="url(#g47)" stroke="url(#g47)"/>
<path d="M524.1 245.8L558.1 307.7L500.2 316Z" fill="url(#g48)" stroke="url(#g48)"/>
<path class="e" d="M466.1 256.2L524.1 245.8M466.1 256.2L500.2 316M500.2 316L558.1 307.7M524.1 245.8L558.1 307.7"/>
<path class="v" d="M466.1 256.2h0M524.1 245.8h0M558.1 307.7h0M500.2 316h0"/>
<path d="M408.2 269.3L466.1 256.2L442.3 323.8Z" fill="url(#g49)" stroke="url(#g49)"/>
<path d="M466.1 256.2L500.2 316L442.3 323.8Z" fill="url(#g50)" stroke="url(#g50)"/>
<path class="e" d="M408.2 269.3L466.1 256.2M408.2 269.3L442.3 323.8M442.3 323.8L500.2 316M466.1 256.2L500.2 316"/>
<path class="v" d="M408.2 269.3h0M466.1 256.2h0M500.2 316h0M442.3 323.8h0"/>
<path d="M350.3 279.5L408.2 269.3L384.4 331.1Z" fill="url(#g51)" stroke="url(#g51)"/>
<path d="M408.2 269.3L442.3 323.8L384.4 331.1Z" fill="url(#g52)" stroke="url(#g52)"/>
<path class="e" d="M350.3 279.5L408.2 269.3M350.3 279.5L384.4 331.1M384.4 331.1L442.3 323.8M408.2 269.3L442.3 323.8"/>
<path class="v" d="M350.3 279.5h0M408.2 269.3h0M442.3 323.8h0M384.4 331.1h0"/>
<path d="M292.4 291.2L350.3 279.5L326.4 339.6Z" fill="url(#g53)" stroke="url(#g53)"/>
<path d="M350.3 279.5L384.4 331.1L326.4 339.6Z" fill="url(#g54)" stroke="url(#g54)"/>
<path class="e" d="M292.4 291.2L350.3 279.5M292.4 291.2L326.4 339.6M326.4 339.6L384.4 331.1M350.3 279.5L384.4 331.1"/>
<path class="v" d="M292.4 291.2h0M350.3 279.5h0M384.4 331.1h0M326.4 339.6h0"/>
<path d="M234.5 303.2L292.4 291.2L268.5 349.7Z" fill="url(#g55)" stroke="url(#g55)"/>
<path d="M292.4 291.2L326.4 339.6L268.5 349.7Z" fill="url(#g56)" stroke="url(#g56)"/>
<path class="e" d="M234.5 303.2L292.4 291.2M234.5 303.2L268.5 349.7M268.5 349.7L326.4 339.6M292.4 291.2L326.4 339.6"/>
<path class="v" d="M234.5 303.2h0M292.4 291.2h0M326.4 339.6h0M268.5 349.7h0"/>
<path d="M1021.5 234.6L1079.4 240.3L1055.6 301.2Z" fill="url(#g57)" stroke="url(#g57)"/>
<path d="M1079.4 240.3L1113.5 328.5L1055.6 301.2Z" fill="url(#g58)" stroke="url(#g58)"/>
<path class="e" d="M1021.5 234.6L1079.4 240.3M1021.5 234.6L1055.6 301.2M1055.6 301.2L1113.5 328.5M1079.4 240.3L1113.5 328.5"/>
<path class="v" d="M1021.5 234.6h0M1079.4 240.3h0M1113.5 328.5h0M1055.6 301.2h0"/>
<path d="M963.6 228.4L1021.5 234.6L997.6 276.4Z" fill="url(#g59)" stroke="url(#g59)"/>
<path d="M1021.5 234.6L1055.6 301.2L997.6 276.4Z" fill="url(#g60)" stroke="url(#g60)"/>
<path class="e" d="M963.6 228.4L1021.5 234.6M963.6 228.4L997.6 276.4M997.6 276.4L1055.6 301.2M1021.5 234.6L1055.6 301.2"/>
<path class="v" d="M963.6 228.4h0M1021.5 234.6h0M1055.6 301.2h0M997.6 276.4h0"/>
<path d="M905.7 224.6L963.6 228.4L939.7 256.9Z" fill="url(#g61)" stroke="url(#g61)"/>
<path d="M963.6 228.4L997.6 276.4L939.7 256.9Z" fill="url(#g62)" stroke="url(#g62)"/>
<path class="e" d="M905.7 224.6L963.6 228.4M905.7 224.6L939.7 256.9M939.7 256.9L997.6 276.4M963.6 228.4L997.6 276.4"/>
<path class="v" d="M905.7 224.6h0M963.6 228.4h0M997.6 276.4h0M939.7 256.9h0"/>
<path d="M847.7 235.4L905.7 224.6L881.8 267.7Z" fill="url(#g63)" stroke="url(#g63)"/>
<path d="M905.7 224.6L939.7 256.9L881.8 267.7Z" fill="url(#g64)" stroke="url(#g64)"/>
<path class="e" d="M847.7 235.4L905.7 224.6M847.7 235.4L881.8 267.7M881.8 267.7L939.7 256.9M905.7 224.6L939.7 256.9"/>
<path class="v" d="M847.7 235.4h0M905.7 224.6h0M939.7 256.9h0M881.8 267.7h0"/>
<path d="M789.8 256.5L847.7 235.4L823.9 302Z" fill="url(#g65)" stroke="url(#g65)"/>
<path d="M847.7 235.4L881.8 267.7L823.9 302Z" fill="url(#g66)" stroke="url(#g66)"/>
<path class="e" d="M789.8 256.5L847.7 235.4M789.8 256.5L823.9 302M823.9 302L881.8 267.7M847.7 235.4L881.8 267.7"/>
<path class="v" d="M789.8 256.5h0M847.7 235.4h0M881.8 267.7h0M823.9 302h0"/>
<path d="M731.9 275.8L789.8 256.5L766 334.9Z" fill="url(#g67)" stroke="url(#g67)"/>
<path d="M789.8 256.5L823.9 302L766 334.9Z" fill="url(#g68)" stroke="url(#g68)"/>
<path class="e" d="M731.9 275.8L789.8 256.5M731.9 275.8L766 334.9M766 334.9L823.9 302M789.8 256.5L823.9 302"/>
<path class="v" d="M731.9 275.8h0M789.8 256.5h0M823.9 302h0M766 334.9h0"/>
<path d="M674 291L731.9 275.8L708 362.3Z" fill="url(#g69)" stroke="url(#g69)"/>
<path d="M731.9 275.8L766 334.9L708 362.3Z" fill="url(#g70)" stroke="url(#g70)"/>
<path class="e" d="M674 291L731.9 275.8M674 291L708 362.3M708 362.3L766 334.9M731.9 275.8L766 334.9"/>
<path class="v" d="M674 291h0M731.9 275.8h0M766 334.9h0M708 362.3h0"/>
<path d="M616.1 300.5L674 291L650.1 369.6Z" fill="url(#g71)" stroke="url(#g71)"/>
<path d="M674 291L708 362.3L650.1 369.6Z" fill="url(#g72)" stroke="url(#g72)"/>
<path class="e" d="M616.1 300.5L674 291M616.1 300.5L650.1 369.6M650.1 369.6L708 362.3M674 291L708 362.3"/>
<path class="v" d="M616.1 300.5h0M674 291h0M708 362.3h0M650.1 369.6h0"/>
<path d="M558.1 307.7L616.1 300.5L592.2 376.3Z" fill="url(#g73)" stroke="url(#g73)"/>
<path d="M616.1 300.5L650.1 369.6L592.2 376.3Z" fill="url(#g74)" stroke="url(#g74)"/>
<path class="e" d="M558.1 307.7L616.1 300.5M558.1 307.7L592.2 376.3M592.2 376.3L650.1 369.6M616.1 300.5L650.1 369.6"/>
<path class="v" d="M558.1 307.7h0M616.1 300.5h0M650.1 369.6h0M592.2 376.3h0"/>
<path d="M500.2 316L558.1 307.7L534.3 382.8Z" fill="url(#g75)" stroke="url(#g75)"/>
<path d="M558.1 307.7L592.2 376.3L534.3 382.8Z" fill="url(#g76)" stroke="url(#g76)"/>
<path class="e" d="M500.2 316L558.1 307.7M500.2 316L534.3 382.8M534.3 382.8L592.2 376.3M558.1 307.7L592.2 376.3"/>
<path class="v" d="M500.2 316h0M558.1 307.7h0M592.2 376.3h0M534.3 382.8h0"/>
<path d="M442.3 323.8L500.2 316L476.4 387.1Z" fill="url(#g77)" stroke="url(#g77)"/>
<path d="M500.2 316L534.3 382.8L476.4 387.1Z" fill="url(#g78)" stroke="url(#g78)"/>
<path class="e" d="M442.3 323.8L500.2 316M442.3 323.8L476.4 387.1M476.4 387.1L534.3 382.8M500.2 316L534.3 382.8"/>
<path class="v" d="M442.3 323.8h0M500.2 316h0M534.3 382.8h0M476.4 387.1h0"/>
<path d="M384.4 331.1L442.3 323.8L418.4 393.1Z" fill="url(#g79)" stroke="url(#g79)"/>
<path d="M442.3 323.8L476.4 387.1L418.4 393.1Z" fill="url(#g80)" stroke="url(#g80)"/>
<path class="e" d="M384.4 331.1L442.3 323.8M384.4 331.1L418.4 393.1M418.4 393.1L476.4 387.1M442.3 323.8L476.4 387.1"/>
<path class="v" d="M384.4 331.1h0M442.3 323.8h0M476.4 387.1h0M418.4 393.1h0"/>
<path d="M326.4 339.6L384.4 331.1L360.5 399.7Z" fill="url(#g81)" stroke="url(#g81)"/>
<path d="M384.4 331.1L418.4 393.1L360.5 399.7Z" fill="url(#g82)" stroke="url(#g82)"/>
<path class="e" d="M326.4 339.6L384.4 331.1M326.4 339.6L360.5 399.7M360.5 399.7L418.4 393.1M384.4 331.1L418.4 393.1"/>
<path class="v" d="M326.4 339.6h0M384.4 331.1h0M418.4 393.1h0M360.5 399.7h0"/>
<path d="M268.5 349.7L326.4 339.6L302.6 407.9Z" fill="url(#g83)" stroke="url(#g83)"/>
<path d="M326.4 339.6L360.5 399.7L302.6 407.9Z" fill="url(#g84)" stroke="url(#g84)"/>
<path class="e" d="M268.5 349.7L326.4 339.6M268.5 349.7L302.6 407.9M302.6 407.9L360.5 399.7M326.4 339.6L360.5 399.7"/>
<path class="v" d="M268.5 349.7h0M326.4 339.6h0M360.5 399.7h0M302.6 407.9h0"/>
<path d="M1055.6 301.2L1113.5 328.5L1089.6 371.6Z" fill="url(#g85)" stroke="url(#g85)"/>
<path d="M1113.5 328.5L1147.6 413.8L1089.6 371.6Z" fill="url(#g86)" stroke="url(#g86)"/>
<path class="e" d="M1055.6 301.2L1113.5 328.5M1055.6 301.2L1089.6 371.6M1089.6 371.6L1147.6 413.8M1113.5 328.5L1147.6 413.8"/>
<path class="v" d="M1055.6 301.2h0M1113.5 328.5h0M1147.6 413.8h0M1089.6 371.6h0"/>
<path d="M997.6 276.4L1055.6 301.2L1031.7 329.3Z" fill="url(#g87)" stroke="url(#g87)"/>
<path d="M1055.6 301.2L1089.6 371.6L1031.7 329.3Z" fill="url(#g88)" stroke="url(#g88)"/>
<path class="e" d="M997.6 276.4L1055.6 301.2M997.6 276.4L1031.7 329.3M1031.7 329.3L1089.6 371.6M1055.6 301.2L1089.6 371.6"/>
<path class="v" d="M997.6 276.4h0M1055.6 301.2h0M1089.6 371.6h0M1031.7 329.3h0"/>
<path d="M939.7 256.9L997.6 276.4L973.8 287.1Z" fill="url(#g89)" stroke="url(#g89)"/>
<path d="M997.6 276.4L1031.7 329.3L973.8 287.1Z" fill="url(#g90)" stroke="url(#g90)"/>
<path class="e" d="M939.7 256.9L997.6 276.4M939.7 256.9L973.8 287.1M973.8 287.1L1031.7 329.3M997.6 276.4L1031.7 329.3"/>
<path class="v" d="M939.7 256.9h0M997.6 276.4h0M1031.7 329.3h0M973.8 287.1h0"/>
<path d="M881.8 267.7L939.7 256.9L915.9 301.8Z" fill="url(#g91)" stroke="url(#g91)"/>
<path d="M939.7 256.9L973.8 287.1L915.9 301.8Z" fill="url(#g92)" stroke="url(#g92)"/>
<path class="e" d="M881.8 267.7L939.7 256.9M881.8 267.7L915.9 301.8M915.9 301.8L973.8 287.1M939.7 256.9L973.8 287.1"/>
<path class="v" d="M881.8 267.7h0M939.7 256.9h0M973.8 287.1h0M915.9 301.8h0"/>
<path d="M823.9 302L881.8 267.7L857.9 351.2Z" fill="url(#g93)" stroke="url(#g93)"/>
<path d="M881.8 267.7L915.9 301.8L857.9 351.2Z" fill="url(#g94)" stroke="url(#g94)"/>
<path class="e" d="M823.9 302L881.8 267.7M823.9 302L857.9 351.2M857.9 351.2L915.9 301.8M881.8 267.7L915.9 301.8"/>
<path class="v" d="M823.9 302h0M881.8 267.7h0M915.9 301.8h0M857.9 351.2h0"/>
<path d="M766 334.9L823.9 302L800 397.2Z" fill="url(#g95)" stroke="url(#g95)"/>
<path d="M823.9 302L857.9 351.2L800 397.2Z" fill="url(#g96)" stroke="url(#g96)"/>
<path class="e" d="M766 334.9L823.9 302M766 334.9L800 397.2M800 397.2L857.9 351.2M823.9 302L857.9 351.2"/>
<path class="v" d="M766 334.9h0M823.9 302h0M857.9 351.2h0M800 397.2h0"/>
<path d="M708 362.3L766 334.9L742.1 437.2Z" fill="url(#g97)" stroke="url(#g97)"/>
<path d="M766 334.9L800 397.2L742.1 437.2Z" fill="url(#g98)" stroke="url(#g98)"/>
<path class="e" d="M708 362.3L766 334.9M708 362.3L742.1 437.2M742.1 437.2L800 397.2M766 334.9L800 397.2"/>
<path class="v" d="M708 362.3h0M766 334.9h0M800 397.2h0M742.1 437.2h0"/>
<path d="M650.1 369.6L708 362.3L684.2 443.3Z" fill="url(#g99)" stroke="url(#g99)"/>
<path d="M708 362.3L742.1 437.2L684.2 443.3Z" fill="url(#g100)" stroke="url(#g100)"/>
<path class="e" d="M650.1 369.6L708 362.3M650.1 369.6L684.2 443.3M684.2 443.3L742.1 437.2M708 362.3L742.1 437.2"/>
<path class="v" d="M650.1 369.6h0M708 362.3h0M742.1 437.2h0M684.2 443.3h0"/>
<path d="M592.2 376.3L650.1 369.6L626.3 448.7Z" fill="url(#g101)" stroke="url(#g101)"/>
<path d="M650.1 369.6L684.2 443.3L626.3 448.7Z" fill="url(#g102)" stroke="url(#g102)"/>
<path class="e" d="M592.2 376.3L650.1 369.6M592.2 376.3L626.3 448.7M626.3 448.7L684.2 443.3M650.1 369.6L684.2 443.3"/>
<path class="v" d="M592.2 376.3h0M650.1 369.6h0M684.2 443.3h0M626.3 448.7h0"/>
<path d="M534.3 382.8L592.2 376.3L568.3 454.1Z" fill="url(#g103)" stroke="url(#g103)"/>
<path d="M592.2 376.3L626.3 448.7L568.3 454.1Z" fill="url(#g104)" stroke="url(#g104)"/>
<path class="e" d="M534.3 382.8L592.2 376.3M534.3 382.8L568.3 454.1M568.3 454.1L626.3 448.7M592.2 376.3L626.3 448.7"/>
<path class="v" d="M534.3 382.8h0M592.2 376.3h0M626.3 448.7h0M568.3 454.1h0"/>
<path d="M476.4 387.1L534.3 382.8L510.4 459.7Z" fill="url(#g105)" stroke="url(#g105)"/>
<path d="M534.3 382.8L568.3 454.1L510.4 459.7Z" fill="url(#g106)" stroke="url(#g106)"/>
<path class="e" d="M476.4 387.1L534.3 382.8M476.4 387.1L510.4 459.7M510.4 459.7L568.3 454.1M534.3 382.8L568.3 454.1"/>
<path class="v" d="M476.4 387.1h0M534.3 382.8h0M568.3 454.1h0M510.4 459.7h0"/>
<path d="M418.4 393.1L476.4 387.1L452.5 465Z" fill="url(#g107)" stroke="url(#g107)"/>
<path d="M476.4 387.1L510.4 459.7L452.5 465Z" fill="url(#g108)" stroke="url(#g108)"/>
<path class="e" d="M418.4 393.1L476.4 387.1M418.4 393.1L452.5 465M452.5 465L510.4 459.7M476.4 387.1L510.4 459.7"/>
<path class="v" d="M418.4 393.1h0M476.4 387.1h0M510.4 459.7h0M452.5 465h0"/>
<path d="M360.5 399.7L418.4 393.1L394.6 471.3Z" fill="url(#g109)" stroke="url(#g109)"/>
<path d="M418.4 393.1L452.5 465L394.6 471.3Z" fill="url(#g110)" stroke="url(#g110)"/>
<path class="e" d="M360.5 399.7L418.4 393.1M360.5 399.7L394.6 471.3M394.6 471.3L452.5 465M418.4 393.1L452.5 465"/>
<path class="v" d="M360.5 399.7h0M418.4 393.1h0M452.5 465h0M394.6 471.3h0"/>
<path d="M302.6 407.9L360.5 399.7L336.7 477.6Z" fill="url(#g111)" stroke="url(#g111)"/>
<path d="M360.5 399.7L394.6 471.3L336.7 477.6Z" fill="url(#g112)" stroke="url(#g112)"/>
<path class="e" d="M302.6 407.9L360.5 399.7M302.6 407.9L336.7 477.6M336.7 477.6L394.6 471.3M360.5 399.7L394.6 471.3"/>
<path class="v" d="M302.6 407.9h0M360.5 399.7h0M394.6 471.3h0M336.7 477.6h0"/>
<path d="M1089.6 371.6L1147.6 413.8L1123.7 439.4Z" fill="url(#g113)" stroke="url(#g113)"/>
<path d="M1147.6 413.8L1181.6 499.6L1123.7 439.4Z" fill="url(#g114)" stroke="url(#g114)"/>
<path class="e" d="M1089.6 371.6L1147.6 413.8M1089.6 371.6L1123.7 439.4M1123.7 439.4L1181.6 499.6M1147.6 413.8L1181.6 499.6"/>
<path class="v" d="M1089.6 371.6h0M1147.6 413.8h0M1181.6 499.6h0M1123.7 439.4h0"/>
<path d="M1031.7 329.3L1089.6 371.6L1065.8 377.9Z" fill="url(#g115)" stroke="url(#g115)"/>
<path d="M1089.6 371.6L1123.7 439.4L1065.8 377.9Z" fill="url(#g116)" stroke="url(#g116)"/>
<path class="e" d="M1031.7 329.3L1089.6 371.6M1031.7 329.3L1065.8 377.9M1065.8 377.9L1123.7 439.4M1089.6 371.6L1123.7 439.4"/>
<path class="v" d="M1031.7 329.3h0M1089.6 371.6h0M1123.7 439.4h0M1065.8 377.9h0"/>
<path d="M973.8 287.1L1031.7 329.3L1007.9 316.4Z" fill="url(#g117)" stroke="url(#g117)"/>
<path d="M1031.7 329.3L1065.8 377.9L1007.9 316.4Z" fill="url(#g118)" stroke="url(#g118)"/>
<path class="e" d="M973.8 287.1L1031.7 329.3M973.8 287.1L1007.9 316.4M1007.9 316.4L1065.8 377.9M1031.7 329.3L1065.8 377.9"/>
<path class="v" d="M973.8 287.1h0M1031.7 329.3h0M1065.8 377.9h0M1007.9 316.4h0"/>
<path d="M915.9 301.8L973.8 287.1L949.9 334.7Z" fill="url(#g119)" stroke="url(#g119)"/>
<path d="M973.8 287.1L1007.9 316.4L949.9 334.7Z" fill="url(#g120)" stroke="url(#g120)"/>
<path class="e" d="M915.9 301.8L973.8 287.1M915.9 301.8L949.9 334.7M949.9 334.7L1007.9 316.4M973.8 287.1L1007.9 316.4"/>
<path class="v" d="M915.9 301.8h0M973.8 287.1h0M1007.9 316.4h0M949.9 334.7h0"/>
<path d="M857.9 351.2L915.9 301.8L892 400.3Z" fill="url(#g121)" stroke="url(#g121)"/>
<path d="M915.9 301.8L949.9 334.7L892 400.3Z" fill="url(#g122)" stroke="url(#g122)"/>
<path class="e" d="M857.9 351.2L915.9 301.8M857.9 351.2L892 400.3M892 400.3L949.9 334.7M915.9 301.8L949.9 334.7"/>
<path class="v" d="M857.9 351.2h0M915.9 301.8h0M949.9 334.7h0M892 400.3h0"/>
<path d="M800 397.2L857.9 351.2L834.1 463.9Z" fill="url(#g123)" stroke="url(#g123)"/>
<path d="M857.9 351.2L892 400.3L834.1 463.9Z" fill="url(#g124)" stroke="url(#g124)"/>
<path class="e" d="M800 397.2L857.9 351.2M800 397.2L834.1 463.9M834.1 463.9L892 400.3M857.9 351.2L892 400.3"/>
<path class="v" d="M800 397.2h0M857.9 351.2h0M892 400.3h0M834.1 463.9h0"/>
<path d="M742.1 437.2L800 397.2L776.2 517.4Z" fill="url(#g125)" stroke="url(#g125)"/>
<path d="M800 397.2L834.1 463.9L776.2 517.4Z" fill="url(#g126)" stroke="url(#g126)"/>
<path class="e" d="M742.1 437.2L800 397.2M742.1 437.2L776.2 517.4M776.2 517.4L834.1 463.9M800 397.2L834.1 463.9"/>
<path class="v" d="M742.1 437.2h0M800 397.2h0M834.1 463.9h0M776.2 517.4h0"/>
<path d="M684.2 443.3L742.1 437.2L718.2 522.9Z" fill="url(#g127)" stroke="url(#g127)"/>
<path d="M742.1 437.2L776.2 517.4L718.2 522.9Z" fill="url(#g128)" stroke="url(#g128)"/>
<path class="e" d="M684.2 443.3L742.1 437.2M684.2 443.3L718.2 522.9M718.2 522.9L776.2 517.4M742.1 437.2L776.2 517.4"/>
<path class="v" d="M684.2 443.3h0M742.1 437.2h0M776.2 517.4h0M718.2 522.9h0"/>
<path d="M626.3 448.7L684.2 443.3L660.3 530.2Z" fill="url(#g129)" stroke="url(#g129)"/>
<path d="M684.2 443.3L718.2 522.9L660.3 530.2Z" fill="url(#g130)" stroke="url(#g130)"/>
<path class="e" d="M626.3 448.7L684.2 443.3M626.3 448.7L660.3 530.2M660.3 530.2L718.2 522.9M684.2 443.3L718.2 522.9"/>
<path class="v" d="M626.3 448.7h0M684.2 443.3h0M718.2 522.9h0M660.3 530.2h0"/>
<path d="M568.3 454.1L626.3 448.7L602.4 537.1Z" fill="url(#g131)" stroke="url(#g131)"/>
<path d="M626.3 448.7L660.3 530.2L602.4 537.1Z" fill="url(#g132)" stroke="url(#g132)"/>
<path class="e" d="M568.3 454.1L626.3 448.7M568.3 454.1L602.4 537.1M602.4 537.1L660.3 530.2M626.3 448.7L660.3 530.2"/>
<path class="v" d="M568.3 454.1h0M626.3 448.7h0M660.3 530.2h0M602.4 537.1h0"/>
<path d="M510.4 459.7L568.3 454.1L544.5 542.1Z" fill="url(#g133)" stroke="url(#g133)"/>
<path d="M568.3 454.1L602.4 537.1L544.5 542.1Z" fill="url(#g134)" stroke="url(#g134)"/>
<path class="e" d="M510.4 459.7L568.3 454.1M510.4 459.7L544.5 542.1M544.5 542.1L602.4 537.1M568.3 454.1L602.4 537.1"/>
<path class="v" d="M510.4 459.7h0M568.3 454.1h0M602.4 537.1h0M544.5 542.1h0"/>
<path d="M452.5 465L510.4 459.7L486.6 548.3Z" fill="url(#g135)" stroke="url(#g135)"/>
<path d="M510.4 459.7L544.5 542.1L486.6 548.3Z" fill="url(#g136)" stroke="url(#g136)"/>
<path class="e" d="M452.5 465L510.4 459.7M452.5 465L486.6 548.3M486.6 548.3L544.5 542.1M510.4 459.7L544.5 542.1"/>
<path class="v" d="M452.5 465h0M510.4 459.7h0M544.5 542.1h0M486.6 548.3h0"/>
<path d="M394.6 471.3L452.5 465L428.6 555.2Z" fill="url(#g137)" stroke="url(#g137)"/>
<path d="M452.5 465L486.6 548.3L428.6 555.2Z" fill="url(#g138)" stroke="url(#g138)"/>
<path class="e" d="M394.6 471.3L452.5 465M394.6 471.3L428.6 555.2M428.6 555.2L486.6 548.3M452.5 465L486.6 548.3"/>
<path class="v" d="M394.6 471.3h0M452.5 465h0M486.6 548.3h0M428.6 555.2h0"/>
<path d="M336.7 477.6L394.6 471.3L370.7 561.4Z" fill="url(#g139)" stroke="url(#g139)"/>
<path d="M394.6 471.3L428.6 555.2L370.7 561.4Z" fill="url(#g140)" stroke="url(#g140)"/>
<path class="e" d="M336.7 477.6L394.6 471.3M336.7 477.6L370.7 561.4M370.7 561.4L428.6 555.2M394.6 471.3L428.6 555.2"/>
<path class="v" d="M336.7 477.6h0M394.6 471.3h0M428.6 555.2h0M370.7 561.4h0"/>
<path d="M1123.7 439.4L1181.6 499.6L1157.8 502.6Z" fill="url(#g141)" stroke="url(#g141)"/>
<path d="M1181.6 499.6L1215.7 582.2L1157.8 502.6Z" fill="url(#g142)" stroke="url(#g142)"/>
<path class="e" d="M1123.7 439.4L1181.6 499.6M1123.7 439.4L1157.8 502.6M1157.8 502.6L1215.7 582.2M1181.6 499.6L1215.7 582.2"/>
<path class="v" d="M1123.7 439.4h0M1181.6 499.6h0M1215.7 582.2h0M1157.8 502.6h0"/>
<path d="M1065.8 377.9L1123.7 439.4L1099.8 424.4Z" fill="url(#g143)" stroke="url(#g143)"/>
<path d="M1123.7 439.4L1157.8 502.6L1099.8 424.4Z" fill="url(#g144)" stroke="url(#g144)"/>
<path class="e" d="M1065.8 377.9L1123.7 439.4M1065.8 377.9L1099.8 424.4M1099.8 424.4L1157.8 502.6M1123.7 439.4L1157.8 502.6"/>
<path class="v" d="M1065.8 377.9h0M1123.7 439.4h0M1157.8 502.6h0M1099.8 424.4h0"/>
<path d="M1007.9 316.4L1065.8 377.9L1041.9 344.8Z" fill="url(#g145)" stroke="url(#g145)"/>
<path d="M1065.8 377.9L1099.8 424.4L1041.9 344.8Z" fill="url(#g146)" stroke="url(#g146)"/>
<path class="e" d="M1007.9 316.4L1065.8 377.9M1007.9 316.4L1041.9 344.8M1041.9 344.8L1099.8 424.4M1065.8 377.9L1099.8 424.4"/>
<path class="v" d="M1007.9 316.4h0M1065.8 377.9h0M1099.8 424.4h0M1041.9 344.8h0"/>
<path d="M949.9 334.7L1007.9 316.4L984 368.5Z" fill="url(#g147)" stroke="url(#g147)"/>
<path d="M1007.9 316.4L1041.9 344.8L984 368.5Z" fill="url(#g148)" stroke="url(#g148)"/>
<path class="e" d="M949.9 334.7L1007.9 316.4M949.9 334.7L984 368.5M984 368.5L1041.9 344.8M1007.9 316.4L1041.9 344.8"/>
<path class="v" d="M949.9 334.7h0M1007.9 316.4h0M1041.9 344.8h0M984 368.5h0"/>
<path d="M892 400.3L949.9 334.7L926.1 453.9Z" fill="url(#g149)" stroke="url(#g149)"/>
<path d="M949.9 334.7L984 368.5L926.1 453.9Z" fill="url(#g150)" stroke="url(#g150)"/>
<path class="e" d="M892 400.3L949.9 334.7M892 400.3L926.1 453.9M926.1 453.9L984 368.5M949.9 334.7L984 368.5"/>
<path class="v" d="M892 400.3h0M949.9 334.7h0M984 368.5h0M926.1 453.9h0"/>
<path d="M834.1 463.9L892 400.3L868.2 531.4Z" fill="url(#g151)" stroke="url(#g151)"/>
<path d="M892 400.3L926.1 453.9L868.2 531.4Z" fill="url(#g152)" stroke="url(#g152)"/>
<path class="e" d="M834.1 463.9L892 400.3M834.1 463.9L868.2 531.4M868.2 531.4L926.1 453.9M892 400.3L926.1 453.9"/>
<path class="v" d="M834.1 463.9h0M892 400.3h0M926.1 453.9h0M868.2 531.4h0"/>
<path d="M776.2 517.4L834.1 463.9L810.2 597.4Z" fill="url(#g153)" stroke="url(#g153)"/>
<path d="M834.1 463.9L868.2 531.4L810.2 597.4Z" fill="url(#g154)" stroke="url(#g154)"/>
<path class="e" d="M776.2 517.4L834.1 463.9M776.2 517.4L810.2 597.4M810.2 597.4L868.2 531.4M834.1 463.9L868.2 531.4"/>
<path class="v" d="M776.2 517.4h0M834.1 463.9h0M868.2 531.4h0M810.2 597.4h0"/>
<path d="M718.2 522.9L776.2 517.4L752.3 605.5Z" fill="url(#g155)" stroke="url(#g155)"/>
<path d="M776.2 517.4L810.2 597.4L752.3 605.5Z" fill="url(#g156)" stroke="url(#g156)"/>
<path class="e" d="M718.2 522.9L776.2 517.4M718.2 522.9L752.3 605.5M752.3 605.5L810.2 597.4M776.2 517.4L810.2 597.4"/>
<path class="v" d="M718.2 522.9h0M776.2 517.4h0M810.2 597.4h0M752.3 605.5h0"/>
<path d="M660.3 530.2L718.2 522.9L694.4 613.7Z" fill="url(#g157)" stroke="url(#g157)"/>
<path d="M718.2 522.9L752.3 605.5L694.4 613.7Z" fill="url(#g158)" stroke="url(#g158)"/>
<path class="e" d="M660.3 530.2L718.2 522.9M660.3 530.2L694.4 613.7M694.4 613.7L752.3 605.5M718.2 522.9L752.3 605.5"/>
<path class="v" d="M660.3 530.2h0M718.2 522.9h0M752.3 605.5h0M694.4 613.7h0"/>
<path d="M602.4 537.1L660.3 530.2L636.5 621.9Z" fill="url(#g159)" stroke="url(#g159)"/>
<path d="M660.3 530.2L694.4 613.7L636.5 621.9Z" fill="url(#g160)" stroke="url(#g160)"/>
<path class="e" d="M602.4 537.1L660.3 530.2M602.4 537.1L636.5 621.9M636.5 621.9L694.4 613.7M660.3 530.2L694.4 613.7"/>
<path class="v" d="M602.4 537.1h0M660.3 530.2h0M694.4 613.7h0M636.5 621.9h0"/>
<path d="M544.5 542.1L602.4 537.1L578.5 630.1Z" fill="url(#g161)" stroke="url(#g161)"/>
<path d="M602.4 537.1L636.5 621.9L578.5 630.1Z" fill="url(#g162)" stroke="url(#g162)"/>
<path class="e" d="M544.5 542.1L602.4 537.1M544.5 542.1L578.5 630.1M578.5 630.1L636.5 621.9M602.4 537.1L636.5 621.9"/>
<path class="v" d="M544.5 542.1h0M602.4 537.1h0M636.5 621.9h0M578.5 630.1h0"/>
<path d="M486.6 548.3L544.5 542.1L520.6 638.3Z" fill="url(#g163)" stroke="url(#g163)"/>
<path d="M544.5 542.1L578.5 630.1L520.6 638.3Z" fill="url(#g164)" stroke="url(#g164)"/>
<path class="e" d="M486.6 548.3L544.5 542.1M486.6 548.3L520.6 638.3M520.6 638.3L578.5 630.1M544.5 542.1L578.5 630.1"/>
<path class="v" d="M486.6 548.3h0M544.5 542.1h0M578.5 630.1h0M520.6 638.3h0"/>
<path d="M428.6 555.2L486.6 548.3L462.7 646.5Z" fill="url(#g165)" stroke="url(#g165)"/>
<path d="M486.6 548.3L520.6 638.3L462.7 646.5Z" fill="url(#g166)" stroke="url(#g166)"/>
<path class="e" d="M428.6 555.2L486.6 548.3M428.6 555.2L462.7 646.5M462.7 646.5L520.6 638.3M486.6 548.3L520.6 638.3"/>
<path class="v" d="M428.6 555.2h0M486.6 548.3h0M520.6 638.3h0M462.7 646.5h0"/>
<path d="M370.7 561.4L428.6 555.2L404.8 654.7Z" fill="url(#g167)" stroke="url(#g167)"/>
<path d="M428.6 555.2L462.7 646.5L404.8 654.7Z" fill="url(#g168)" stroke="url(#g168)"/>
<path class="e" d="M370.7 561.4L428.6 555.2M370.7 561.4L404.8 654.7M404.8 654.7L462.7 646.5M428.6 555.2L462.7 646.5"/>
<path class="v" d="M370.7 561.4h0M428.6 555.2h0M462.7 646.5h0M404.8 654.7h0"/>
<path d="M1157.8 502.6L1215.7 582.2L1191.8 529.1Z" fill="url(#g169)" stroke="url(#g169)"/>
<path d="M1215.7 582.2L1249.8 610.8L1191.8 529.1Z" fill="url(#g170)" stroke="url(#g170)"/>
<path class="e" d="M1157.8 502.6L1215.7 582.2M1157.8 502.6L1191.8 529.1M1191.8 529.1L1249.8 610.8M1215.7 582.2L1249.8 610.8"/>
<path class="v" d="M1157.8 502.6h0M1215.7 582.2h0M1249.8 610.8h0M1191.8 529.1h0"/>
<path d="M1099.8 424.4L1157.8 502.6L1133.9 450.2Z" fill="url(#g171)" stroke="url(#g171)"/>
<path d="M1157.8 502.6L1191.8 529.1L1133.9 450.2Z" fill="url(#g172)" stroke="url(#g172)"/>
<path class="e" d="M1099.8 424.4L1157.8 502.6M1099.8 424.4L1133.9 450.2M1133.9 450.2L1191.8 529.1M1157.8 502.6L1191.8 529.1"/>
<path class="v" d="M1099.8 424.4h0M1157.8 502.6h0M1191.8 529.1h0M1133.9 450.2h0"/>
<path d="M1041.9 344.8L1099.8 424.4L1076 371.3Z" fill="url(#g173)" stroke="url(#g173)"/>
<path d="M1099.8 424.4L1133.9 450.2L1076 371.3Z" fill="url(#g174)" stroke="url(#g174)"/>
<path class="e" d="M1041.9 344.8L1099.8 424.4M1041.9 344.8L1076 371.3M1076 371.3L1133.9 450.2M1099.8 424.4L1133.9 450.2"/>
<path class="v" d="M1041.9 344.8h0M1099.8 424.4h0M1133.9 450.2h0M1076 371.3h0"/>
<path d="M984 368.5L1041.9 344.8L1018.1 402.4Z" fill="url(#g175)" stroke="url(#g175)"/>
<path d="M1041.9 344.8L1076 371.3L1018.1 402.4Z" fill="url(#g176)" stroke="url(#g176)"/>
<path class="e" d="M984 368.5L1041.9 344.8M984 368.5L1018.1 402.4M1018.1 402.4L1076 371.3M1041.9 344.8L1076 371.3"/>
<path class="v" d="M984 368.5h0M1041.9 344.8h0M1076 371.3h0M1018.1 402.4h0"/>
<path d="M926.1 453.9L984 368.5L960.1 507.1Z" fill="url(#g177)" stroke="url(#g177)"/>
<path d="M984 368.5L1018.1 402.4L960.1 507.1Z" fill="url(#g178)" stroke="url(#g178)"/>
<path class="e" d="M926.1 453.9L984 368.5M926.1 453.9L960.1 507.1M960.1 507.1L1018.1 402.4M984 368.5L1018.1 402.4"/>
<path class="v" d="M926.1 453.9h0M984 368.5h0M1018.1 402.4h0M960.1 507.1h0"/>
<path d="M868.2 531.4L926.1 453.9L902.2 600.2Z" fill="url(#g179)" stroke="url(#g179)"/>
<path d="M926.1 453.9L960.1 507.1L902.2 600.2Z" fill="url(#g180)" stroke="url(#g180)"/>
<path class="e" d="M868.2 531.4L926.1 453.9M868.2 531.4L902.2 600.2M902.2 600.2L960.1 507.1M926.1 453.9L960.1 507.1"/>
<path class="v" d="M868.2 531.4h0M926.1 453.9h0M960.1 507.1h0M902.2 600.2h0"/>
<path d="M810.2 597.4L868.2 531.4L844.3 684.9Z" fill="url(#g181)" stroke="url(#g181)"/>
<path d="M868.2 531.4L902.2 600.2L844.3 684.9Z" fill="url(#g182)" stroke="url(#g182)"/>
<path class="e" d="M810.2 597.4L868.2 531.4M810.2 597.4L844.3 684.9M844.3 684.9L902.2 600.2M868.2 531.4L902.2 600.2"/>
<path class="v" d="M810.2 597.4h0M868.2 531.4h0M902.2 600.2h0M844.3 684.9h0"/>
<path d="M752.3 605.5L810.2 597.4L786.4 695.5Z" fill="url(#g183)" stroke="url(#g183)"/>
<path d="M810.2 597.4L844.3 684.9L786.4 695.5Z" fill="url(#g184)" stroke="url(#g184)"/>
<path class="e" d="M752.3 605.5L810.2 597.4M752.3 605.5L786.4 695.5M786.4 695.5L844.3 684.9M810.2 597.4L844.3 684.9"/>
<path class="v" d="M752.3 605.5h0M810.2 597.4h0M844.3 684.9h0M786.4 695.5h0"/>
<path d="M694.4 613.7L752.3 605.5L728.5 706.1Z" fill="url(#g185)" stroke="url(#g185)"/>
<path d="M752.3 605.5L786.4 695.5L728.5 706.1Z" fill="url(#g186)" stroke="url(#g186)"/>
<path class="e" d="M694.4 613.7L752.3 605.5M694.4 613.7L728.5 706.1M728.5 706.1L786.4 695.5M752.3 605.5L786.4 695.5"/>
<path class="v" d="M694.4 613.7h0M752.3 605.5h0M786.4 695.5h0M728.5 706.1h0"/>
<path d="M636.5 621.9L694.4 613.7L670.5 716.7Z" fill="url(#g187)" stroke="url(#g187)"/>
<path d="M694.4 613.7L728.5 706.1L670.5 716.7Z" fill="url(#g188)" stroke="url(#g188)"/>
<path class="e" d="M636.5 621.9L694.4 613.7M636.5 621.9L670.5 716.7M670.5 716.7L728.5 706.1M694.4 613.7L728.5 706.1"/>
<path class="v" d="M636.5 621.9h0M694.4 613.7h0M728.5 706.1h0M670.5 716.7h0"/>
<path d="M578.5 630.1L636.5 621.9L612.6 727.3Z" fill="url(#g189)" stroke="url(#g189)"/>
<path d="M636.5 621.9L670.5 716.7L612.6 727.3Z" fill="url(#g190)" stroke="url(#g190)"/>
<path class="e" d="M578.5 630.1L636.5 621.9M578.5 630.1L612.6 727.3M612.6 727.3L670.5 716.7M636.5 621.9L670.5 716.7"/>
<path class="v" d="M578.5 630.1h0M636.5 621.9h0M670.5 716.7h0M612.6 727.3h0"/>
<path d="M520.6 638.3L578.5 630.1L554.7 737.9Z" fill="url(#g191)" stroke="url(#g191)"/>
<path d="M578.5 630.1L612.6 727.3L554.7 737.9Z" fill="url(#g192)" stroke="url(#g192)"/>
<path class="e" d="M520.6 638.3L578.5 630.1M520.6 638.3L554.7 737.9M554.7 737.9L612.6 727.3M578.5 630.1L612.6 727.3"/>
<path class="v" d="M520.6 638.3h0M578.5 630.1h0M612.6 727.3h0M554.7 737.9h0"/>
<path d="M462.7 646.5L520.6 638.3L496.8 748.5Z" fill="url(#g193)" stroke="url(#g193)"/>
<path d="M520.6 638.3L554.7 737.9L496.8 748.5Z" fill="url(#g194)" stroke="url(#g194)"/>
<path class="e" d="M462.7 646.5L520.6 638.3M462.7 646.5L496.8 748.5M496.8 748.5L554.7 737.9M520.6 638.3L554.7 737.9"/>
<path class="v" d="M462.7 646.5h0M520.6 638.3h0M554.7 737.9h0M496.8 748.5h0"/>
<path d="M404.8 654.7L462.7 646.5L438.9 759Z" fill="url(#g195)" stroke="url(#g195)"/>
<path d="M462.7 646.5L496.8 748.5L438.9 759Z" fill="url(#g196)" stroke="url(#g196)"/>
<path class="e" d="M404.8 654.7L462.7 646.5M404.8 654.7L438.9 759M438.9 759L496.8 748.5M462.7 646.5L496.8 748.5"/>
<path class="v" d="M404.8 654.7h0M462.7 646.5h0M496.8 748.5h0M438.9 759h0"/>
<path d="M1191.8 529.1L1249.8 610.8L1225.9 549.2Z" fill="url(#g197)" stroke="url(#g197)"/>
<path d="M1249.8 610.8L1283.8 628.9L1225.9 549.2Z" fill="url(#g198)" stroke="url(#g198)"/>
<path class="e" d="M1191.8 529.1L1249.8 610.8M1191.8 529.1L1225.9 549.2M1225.9 549.2L1283.8 628.9M1249.8 610.8L1283.8 628.9"/>
<path class="v" d="M1191.8 529.1h0M1249.8 610.8h0M1283.8 628.9h0M1225.9 549.2h0"/>
<path d="M1133.9 450.2L1191.8 529.1L1168 473.5Z" fill="url(#g199)" stroke="url(#g199)"/>
<path d="M1191.8 529.1L1225.9 549.2L1168 473.5Z" fill="url(#g200)" stroke="url(#g200)"/>
<path class="e" d="M1133.9 450.2L1191.8 529.1M1133.9 450.2L1168 473.5M1168 473.5L1225.9 549.2M1191.8 529.1L1225.9 549.2"/>
<path class="v" d="M1133.9 450.2h0M1191.8 529.1h0M1225.9 549.2h0M1168 473.5h0"/>
<path d="M1076 371.3L1133.9 450.2L1110 396.5Z" fill="url(#g201)" stroke="url(#g201)"/>
<path d="M1133.9 450.2L1168 473.5L1110 396.5Z" fill="url(#g202)" stroke="url(#g202)"/>
<path class="e" d="M1076 371.3L1133.9 450.2M1076 371.3L1110 396.5M1110 396.5L1168 473.5M1133.9 450.2L1168 473.5"/>
<path class="v" d="M1076 371.3h0M1133.9 450.2h0M1168 473.5h0M1110 396.5h0"/>
<path d="M1018.1 402.4L1076 371.3L1052.1 426.7Z" fill="url(#g203)" stroke="url(#g203)"/>
<path d="M1076 371.3L1110 396.5L1052.1 426.7Z" fill="url(#g204)" stroke="url(#g204)"/>
<path class="e" d="M1018.1 402.4L1076 371.3M1018.1 402.4L1052.1 426.7M1052.1 426.7L1110 396.5M1076 371.3L1110 396.5"/>
<path class="v" d="M1018.1 402.4h0M1076 371.3h0M1110 396.5h0M1052.1 426.7h0"/>
<path d="M960.1 507.1L1018.1 402.4L994.2 529.1Z" fill="url(#g205)" stroke="url(#g205)"/>
<path d="M1018.1 402.4L1052.1 426.7L994.2 529.1Z" fill="url(#g206)" stroke="url(#g206)"/>
<path class="e" d="M960.1 507.1L1018.1 402.4M960.1 507.1L994.2 529.1M994.2 529.1L1052.1 426.7M1018.1 402.4L1052.1 426.7"/>
<path class="v" d="M960.1 507.1h0M1018.1 402.4h0M1052.1 426.7h0M994.2 529.1h0"/>
<path d="M902.2 600.2L960.1 507.1L936.3 623.2Z" fill="url(#g207)" stroke="url(#g207)"/>
<path d="M960.1 507.1L994.2 529.1L936.3 623.2Z" fill="url(#g208)" stroke="url(#g208)"/>
<path class="e" d="M902.2 600.2L960.1 507.1M902.2 600.2L936.3 623.2M936.3 623.2L994.2 529.1M960.1 507.1L994.2 529.1"/>
<path class="v" d="M902.2 600.2h0M960.1 507.1h0M994.2 529.1h0M936.3 623.2h0"/>
<path d="M844.3 684.9L902.2 600.2L878.4 703Z" fill="url(#g209)" stroke="url(#g209)"/>
<path d="M902.2 600.2L936.3 623.2L878.4 703Z" fill="url(#g210)" stroke="url(#g210)"/>
<path class="e" d="M844.3 684.9L902.2 600.2M844.3 684.9L878.4 703M878.4 703L936.3 623.2M902.2 600.2L936.3 623.2"/>
<path class="v" d="M844.3 684.9h0M902.2 600.2h0M936.3 623.2h0M878.4 703h0"/>
<path d="M786.4 695.5L844.3 684.9L878.4 703L820.4 713.6Z" fill="#00008f" stroke="#00008f"/>
<path class="e" d="M786.4 695.5L844.3 684.9M786.4 695.5L820.4 713.6M820.4 713.6L878.4 703M844.3 684.9L878.4 703"/>
<path class="v" d="M786.4 695.5h0M844.3 684.9h0M878.4 703h0M820.4 713.6h0"/>
<path d="M728.5 706.1L786.4 695.5L820.4 713.6L762.5 724.2Z" fill="#00008f" stroke="#00008f"/>
<path class="e" d="M728.5 706.1L786.4 695.5M728.5 706.1L762.5 724.2M762.5 724.2L820.4 713.6M786.4 695.5L820.4 713.6"/>
<path class="v" d="M728.5 706.1h0M786.4 695.5h0M820.4 713.6h0M762.5 724.2h0"/>
<path d="M670.5 716.7L728.5 706.1L762.5 724.2L704.6 734.8Z" fill="#00008f" stroke="#00008f"/>
<path class="e" d="M670.5 716.7L728.5 706.1M670.5 716.7L704.6 734.8M704.6 734.8L762.5 724.2M728.5 706.1L762.5 724.2"/>
<path class="v" d="M670.5 716.7h0M728.5 706.1h0M762.5 724.2h0M704.6 734.8h0"/>
<path d="M612.6 727.3L670.5 716.7L704.6 734.8L646.7 745.4Z" fill="#00008f" stroke="#00008f"/>
<path class="e" d="M612.6 727.3L670.5 716.7M612.6 727.3L646.7 745.4M646.7 745.4L704.6 734.8M670.5 716.7L704.6 734.8"/>
<path class="v" d="M612.6 727.3h0M670.5 716.7h0M704.6 734.8h0M646.7 745.4h0"/>
<path d="M554.7 737.9L612.6 727.3L646.7 745.4L588.8 756Z" fill="#00008f" stroke="#00008f"/>
<path class="e" d="M554.7 737.9L612.6 727.3M554.7 737.9L588.8 756M588.8 756L646.7 745.4M612.6 727.3L646.7 745.4"/>
<path class="v" d="M554.7 737.9h0M612.6 727.3h0M646.7 745.4h0M588.8 756h0"/>
<path d="M496.8 748.5L554.7 737.9L588.8 756L530.8 766.6Z" fill="#00008f" stroke="#00008f"/>
<path class="e" d="M496.8 748.5L554.7 737.9M496.8 748.5L530.8 766.6M530.8 766.6L588.8 756M554.7 737.9L588.8 756"/>
<path class="v" d="M496.8 748.5h0M554.7 737.9h0M588.8 756h0M530.8 766.6h0"/>
<path d="M438.9 759L496.8 748.5L530.8 766.6L472.9 777.2Z" fill="#00008f" stroke="#00008f"/>
<path class="e" d="M438.9 759L496.8 748.5M438.9 759L472.9 777.2M472.9 777.2L530.8 766.6M496.8 748.5L530.8 766.6"/>
<path class="v" d="M438.9 759h0M496.8 748.5h0M530.8 766.6h0M472.9 777.2h0"/>
<path d="M1225.9 549.2L1283.8 628.9L1260 569.9Z" fill="url(#g211)" stroke="url(#g211)"/>
<path d="M1283.8 628.9L1317.9 647L1260 569.9Z" fill="url(#g212)" stroke="url(#g212)"/>
<path class="e" d="M1225.9 549.2L1283.8 628.9M1225.9 549.2L1260 569.9M1260 569.9L1317.9 647M1283.8 628.9L1317.9 647"/>
<path class="v" d="M1225.9 549.2h0M1283.8 628.9h0M1317.9 647h0M1260 569.9h0"/>
<path d="M1168 473.5L1225.9 549.2L1202 495.5Z" fill="url(#g213)" stroke="url(#g213)"/>
<path d="M1225.9 549.2L1260 569.9L1202 495.5Z" fill="url(#g214)" stroke="url(#g214)"/>
<path class="e" d="M1168 473.5L1225.9 549.2M1168 473.5L1202 495.5M1202 495.5L1260 569.9M1225.9 549.2L1260 569.9"/>
<path class="v" d="M1168 473.5h0M1225.9 549.2h0M1260 569.9h0M1202 495.5h0"/>
<path d="M1110 396.5L1168 473.5L1144.1 421.1Z" fill="url(#g215)" stroke="url(#g215)"/>
<path d="M1168 473.5L1202 495.5L1144.1 421.1Z" fill="url(#g216)" stroke="url(#g216)"/>
<path class="e" d="M1110 396.5L1168 473.5M1110 396.5L1144.1 421.1M1144.1 421.1L1202 495.5M1168 473.5L1202 495.5"/>
<path class="v" d="M1110 396.5h0M1168 473.5h0M1202 495.5h0M1144.1 421.1h0"/>
<path d="M1052.1 426.7L1110 396.5L1086.2 450.5Z" fill="url(#g217)" stroke="url(#g217)"/>
<path d="M1110 396.5L1144.1 421.1L1086.2 450.5Z" fill="url(#g218)" stroke="url(#g218)"/>
<path class="e" d="M1052.1 426.7L1110 396.5M1052.1 426.7L1086.2 450.5M1086.2 450.5L1144.1 421.1M1110 396.5L1144.1 421.1"/>
<path class="v" d="M1052.1 426.7h0M1110 396.5h0M1144.1 421.1h0M1086.2 450.5h0"/>
<path d="M994.2 529.1L1052.1 426.7L1028.3 550.8Z" fill="url(#g219)" stroke="url(#g219)"/>
<path d="M1052.1 426.7L1086.2 450.5L1028.3 550.8Z" fill="url(#g220)" stroke="url(#g220)"/>
<path class="e" d="M994.2 529.1L1052.1 426.7M994.2 529.1L1028.3 550.8M1028.3 550.8L1086.2 450.5M1052.1 426.7L1086.2 450.5"/>
<path class="v" d="M994.2 529.1h0M1052.1 426.7h0M1086.2 450.5h0M1028.3 550.8h0"/>
<path d="M936.3 623.2L994.2 529.1L970.3 642.8Z" fill="url(#g221)" stroke="url(#g221)"/>
<path d="M994.2 529.1L1028.3 550.8L970.3 642.8Z" fill="url(#g222)" stroke="url(#g222)"/>
<path class="e" d="M936.3 623.2L994.2 529.1M936.3 623.2L970.3 642.8M970.3 642.8L1028.3 550.8M994.2 529.1L1028.3 550.8"/>
<path class="v" d="M936.3 623.2h0M994.2 529.1h0M1028.3 550.8h0M970.3 642.8h0"/>
<path d="M878.4 703L936.3 623.2L912.4 721.1Z" fill="url(#g223)" stroke="url(#g223)"/>
<path d="M936.3 623.2L970.3 642.8L912.4 721.1Z" fill="url(#g224)" stroke="url(#g224)"/>
<path class="e" d="M878.4 703L936.3 623.2M878.4 703L912.4 721.1M912.4 721.1L970.3 642.8M936.3 623.2L970.3 642.8"/>
<path class="v" d="M878.4 703h0M936.3 623.2h0M970.3 642.8h0M912.4 721.1h0"/>
<path d="M820.4 713.6L878.4 703L912.4 721.1L854.5 731.7Z" fill="#00008f" stroke="#00008f"/>
<path class="e" d="M820.4 713.6L878.4 703M820.4 713.6L854.5 731.7M854.5 731.7L912.4 721.1M878.4 703L912.4 721.1"/>
<path class="v" d="M820.4 713.6h0M878.4 703h0M912.4 721.1h0M854.5 731.7h0"/>
<path d="M762.5 724.2L820.4 713.6L854.5 731.7L796.6 742.3Z" fill="#00008f" stroke="#00008f"/>
<path class="e" d="M762.5 724.2L820.4 713.6M762.5 724.2L796.6 742.3M796.6 742.3L854.5 731.7M820.4 713.6L854.5 731.7"/>
<path class="v" d="M762.5 724.2h0M820.4 713.6h0M854.5 731.7h0M796.6 742.3h0"/>
<path d="M704.6 734.8L762.5 724.2L796.6 742.3L738.7 752.9Z" fill="#00008f" stroke="#00008f"/>
<path class="e" d="M704.6 734.8L762.5 724.2M704.6 734.8L738.7 752.9M738.7 752.9L796.6 742.3M762.5 724.2L796.6 742.3"/>
<path class="v" d="M704.6 734.8h0M762.5 724.2h0M796.6 742.3h0M738.7 752.9h0"/>
<path d="M646.7 745.4L704.6 734.8L738.7 752.9L680.7 763.5Z" fill="#00008f" stroke="#00008f"/>
<path class="e" d="M646.7 745.4L704.6 734.8M646.7 745.4L680.7 763.5M680.7 763.5L738.7 752.9M704.6 734.8L738.7 752.9"/>
<path class="v" d="M646.7 745.4h0M704.6 734.8h0M738.7 752.9h0M680.7 763.5h0"/>
<path d="M588.8 756L646.7 745.4L680.7 763.5L622.8 774.1Z" fill="#00008f" stroke="#00008f"/>
<path class="e" d="M588.8 756L646.7 745.4M588.8 756L622.8 774.1M622.8 774.1L680.7 763.5M646.7 745.4L680.7 763.5"/>
<path class="v" d="M588.8 756h0M646.7 745.4h0M680.7 763.5h0M622.8 774.1h0"/>
<path d="M530.8 766.6L588.8 756L622.8 774.1L564.9 784.7Z" fill="#00008f" stroke="#00008f"/>
<path class="e" d="M530.8 766.6L588.8 756M530.8 766.6L564.9 784.7M564.9 784.7L622.8 774.1M588.8 756L622.8 774.1"/>
<path class="v" d="M530.8 766.6h0M588.8 756h0M622.8 774.1h0M564.9 784.7h0"/>
<path d="M472.9 777.2L530.8 766.6L564.9 784.7L507 795.3Z" fill="#00008f" stroke="#00008f"/>
<path class="e" d="M472.9 777.2L530.8 766.6M472.9 777.2L507 795.3M507 795.3L564.9 784.7M530.8 766.6L564.9 784.7"/>
<path class="v" d="M472.9 777.2h0M530.8 766.6h0M564.9 784.7h0M507 795.3h0"/>
<path d="M1260 569.9L1317.9 647L1294 590.6Z" fill="url(#g225)" stroke="url(#g225)"/>
<path d="M1317.9 647L1351.9 665.1L1294 590.6Z" fill="url(#g226)" stroke="url(#g226)"/>
<path class="e" d="M1260 569.9L1317.9 647M1260 569.9L1294 590.6M1294 590.6L1351.9 665.1M1317.9 647L1351.9 665.1"/>
<path class="v" d="M1260 569.9h0M1317.9 647h0M1351.9 665.1h0M1294 590.6h0"/>
<path d="M1202 495.5L1260 569.9L1236.1 518.7Z" fill="url(#g227)" stroke="url(#g227)"/>
<path d="M1260 569.9L1294 590.6L1236.1 518.7Z" fill="url(#g228)" stroke="url(#g228)"/>
<path class="e" d="M1202 495.5L1260 569.9M1202 495.5L1236.1 518.7M1236.1 518.7L1294 590.6M1260 569.9L1294 590.6"/>
<path class="v" d="M1202 495.5h0M1260 569.9h0M1294 590.6h0M1236.1 518.7h0"/>
<path d="M1144.1 421.1L1202 495.5L1178.2 446.3Z" fill="url(#g229)" stroke="url(#g229)"/>
<path d="M1202 495.5L1236.1 518.7L1178.2 446.3Z" fill="url(#g230)" stroke="url(#g230)"/>
<path class="e" d="M1144.1 421.1L1202 495.5M1144.1 421.1L1178.2 446.3M1178.2 446.3L1236.1 518.7M1202 495.5L1236.1 518.7"/>
<path class="v" d="M1144.1 421.1h0M1202 495.5h0M1236.1 518.7h0M1178.2 446.3h0"/>
<path d="M1086.2 450.5L1144.1 421.1L1120.3 474.8Z" fill="url(#g231)" stroke="url(#g231)"/>
<path d="M1144.1 421.1L1178.2 446.3L1120.3 474.8Z" fill="url(#g232)" stroke="url(#g232)"/>
<path class="e" d="M1086.2 450.5L1144.1 421.1M1086.2 450.5L1120.3 474.8M1120.3 474.8L1178.2 446.3M1144.1 421.1L1178.2 446.3"/>
<path class="v" d="M1086.2 450.5h0M1144.1 421.1h0M1178.2 446.3h0M1120.3 474.8h0"/>
<path d="M1028.3 550.8L1086.2 450.5L1062.3 573.9Z" fill="url(#g233)" stroke="url(#g233)"/>
<path d="M1086.2 450.5L1120.3 474.8L1062.3 573.9Z" fill="url(#g234)" stroke="url(#g234)"/>
<path class="e" d="M1028.3 550.8L1086.2 450.5M1028.3 550.8L1062.3 573.9M1062.3 573.9L1120.3 474.8M1086.2 450.5L1120.3 474.8"/>
<path class="v" d="M1028.3 550.8h0M1086.2 450.5h0M1120.3 474.8h0M1062.3 573.9h0"/>
<path d="M970.3 642.8L1028.3 550.8L1004.4 662.6Z" fill="url(#g235)" stroke="url(#g235)"/>
<path d="M1028.3 550.8L1062.3 573.9L1004.4 662.6Z" fill="url(#g236)" stroke="url(#g236)"/>
<path class="e" d="M970.3 642.8L1028.3 550.8M970.3 642.8L1004.4 662.6M1004.4 662.6L1062.3 573.9M1028.3 550.8L1062.3 573.9"/>
<path class="v" d="M970.3 642.8h0M1028.3 550.8h0M1062.3 573.9h0M1004.4 662.6h0"/>
<path d="M912.4 721.1L970.3 642.8L946.5 739.2Z" fill="url(#g237)" stroke="url(#g237)"/>
<path d="M970.3 642.8L1004.4 662.6L946.5 739.2Z" fill="url(#g238)" stroke="url(#g238)"/>
<path class="e" d="M912.4 721.1L970.3 642.8M912.4 721.1L946.5 739.2M946.5 739.2L1004.4 662.6M970.3 642.8L1004.4 662.6"/>
<path class="v" d="M912.4 721.1h0M970.3 642.8h0M1004.4 662.6h0M946.5 739.2h0"/>
<path d="M854.5 731.7L912.4 721.1L946.5 739.2L888.6 749.8Z" fill="#00008f" stroke="#00008f"/>
<path class="e" d="M854.5 731.7L912.4 721.1M854.5 731.7L888.6 749.8M888.6 749.8L946.5 739.2M912.4 721.1L946.5 739.2"/>
<path class="v" d="M854.5 731.7h0M912.4 721.1h0M946.5 739.2h0M888.6 749.8h0"/>
<path d="M796.6 742.3L854.5 731.7L888.6 749.8L830.7 760.4Z" fill="#00008f" stroke="#00008f"/>
<path class="e" d="M796.6 742.3L854.5 731.7M796.6 742.3L830.7 760.4M830.7 760.4L888.6 749.8M854.5 731.7L888.6 749.8"/>
<path class="v" d="M796.6 742.3h0M854.5 731.7h0M888.6 749.8h0M830.7 760.4h0"/>
<path d="M738.7 752.9L796.6 742.3L830.7 760.4L772.7 771Z" fill="#00008f" stroke="#00008f"/>
<path class="e" d="M738.7 752.9L796.6 742.3M738.7 752.9L772.7 771M772.7 771L830.7 760.4M796.6 742.3L830.7 760.4"/>
<path class="v" d="M738.7 752.9h0M796.6 742.3h0M830.7 760.4h0M772.7 771h0"/>
<path d="M680.7 763.5L738.7 752.9L772.7 771L714.8 781.6Z" fill="#00008f" stroke="#00008f"/>
<path class="e" d="M680.7 763.5L738.7 752.9M680.7 763.5L714.8 781.6M714.8 781.6L772.7 771M738.7 752.9L772.7 771"/>
<path class="v" d="M680.7 763.5h0M738.7 752.9h0M772.7 771h0M714.8 781.6h0"/>
<path d="M622.8 774.1L680.7 763.5L714.8 781.6L656.9 792.2Z" fill="#00008f" stroke="#00008f"/>
<path class="e" d="M622.8 774.1L680.7 763.5M622.8 774.1L656.9 792.2M656.9 792.2L714.8 781.6M680.7 763.5L714.8 781.6"/>
<path class="v" d="M622.8 774.1h0M680.7 763.5h0M714.8 781.6h0M656.9 792.2h0"/>
<path d="M564.9 784.7L622.8 774.1L656.9 792.2L599 802.8Z" fill="#00008f" stroke="#00008f"/>
<path class="e" d="M564.9 784.7L622.8 774.1M564.9 784.7L599 802.8M599 802.8L656.9 792.2M622.8 774.1L656.9 792.2"/>
<path class="v" d="M564.9 784.7h0M622.8 774.1h0M656.9 792.2h0M599 802.8h0"/>
<path d="M507 795.3L564.9 784.7L599 802.8L541 813.4Z" fill="#00008f" stroke="#00008f"/>
<path class="e" d="M507 795.3L564.9 784.7M507 795.3L541 813.4M541 813.4L599 802.8M564.9 784.7L599 802.8"/>
<path class="v" d="M507 795.3h0M564.9 784.7h0M599 802.8h0M541 813.4h0"/>
<path d="M1294 590.6L1351.9 665.1L1328.1 611.2Z" fill="url(#g239)" stroke="url(#g239)"/>
<path d="M1351.9 665.1L1386 683.2L1328.1 611.2Z" fill="url(#g240)" stroke="url(#g240)"/>
<path class="e" d="M1294 590.6L1351.9 665.1M1294 590.6L1328.1 611.2M1328.1 611.2L1386 683.2M1351.9 665.1L1386 683.2"/>
<path class="v" d="M1294 590.6h0M1351.9 665.1h0M1386 683.2h0M1328.1 611.2h0"/>
<path d="M1236.1 518.7L1294 590.6L1270.2 540.7Z" fill="url(#g241)" stroke="url(#g241)"/>
<path d="M1294 590.6L1328.1 611.2L1270.2 540.7Z" fill="url(#g242)" stroke="url(#g242)"/>
<path class="e" d="M1236.1 518.7L1294 590.6M1236.1 518.7L1270.2 540.7M1270.2 540.7L1328.1 611.2M1294 590.6L1328.1 611.2"/>
<path class="v" d="M1236.1 518.7h0M1294 590.6h0M1328.1 611.2h0M1270.2 540.7h0"/>
<path d="M1178.2 446.3L1236.1 518.7L1212.2 471.5Z" fill="url(#g243)" stroke="url(#g243)"/>
<path d="M1236.1 518.7L1270.2 540.7L1212.2 471.5Z" fill="url(#g244)" stroke="url(#g244)"/>
<path class="e" d="M1178.2 446.3L1236.1 518.7M1178.2 446.3L1212.2 471.5M1212.2 471.5L1270.2 540.7M1236.1 518.7L1270.2 540.7"/>
<path class="v" d="M1178.2 446.3h0M1236.1 518.7h0M1270.2 540.7h0M1212.2 471.5h0"/>
<path d="M1120.3 474.8L1178.2 446.3L1154.3 498.8Z" fill="url(#g245)" stroke="url(#g245)"/>
<path d="M1178.2 446.3L1212.2 471.5L1154.3 498.8Z" fill="url(#g246)" stroke="url(#g246)"/>
<path class="e" d="M1120.3 474.8L1178.2 446.3M1120.3 474.8L1154.3 498.8M1154.3 498.8L1212.2 471.5M1178.2 446.3L1212.2 471.5"/>
<path class="v" d="M1120.3 474.8h0M1178.2 446.3h0M1212.2 471.5h0M1154.3 498.8h0"/>
<path d="M1062.3 573.9L1120.3 474.8L1096.4 595.7Z" fill="url(#g247)" stroke="url(#g247)"/>
<path d="M1120.3 474.8L1154.3 498.8L1096.4 595.7Z" fill="url(#g248)" stroke="url(#g248)"/>
<path class="e" d="M1062.3 573.9L1120.3 474.8M1062.3 573.9L1096.4 595.7M1096.4 595.7L1154.3 498.8M1120.3 474.8L1154.3 498.8"/>
<path class="v" d="M1062.3 573.9h0M1120.3 474.8h0M1154.3 498.8h0M1096.4 595.7h0"/>
<path d="M1004.4 662.6L1062.3 573.9L1038.5 682.2Z" fill="url(#g249)" stroke="url(#g249)"/>
<path d="M1062.3 573.9L1096.4 595.7L1038.5 682.2Z" fill="url(#g250)" stroke="url(#g250)"/>
<path class="e" d="M1004.4 662.6L1062.3 573.9M1004.4 662.6L1038.5 682.2M1038.5 682.2L1096.4 595.7M1062.3 573.9L1096.4 595.7"/>
<path class="v" d="M1004.4 662.6h0M1062.3 573.9h0M1096.4 595.7h0M1038.5 682.2h0"/>
<path d="M946.5 739.2L1004.4 662.6L980.6 757.3Z" fill="url(#g251)" stroke="url(#g251)"/>
<path d="M1004.4 662.6L1038.5 682.2L980.6 757.3Z" fill="url(#g252)" stroke="url(#g252)"/>
<path class="e" d="M946.5 739.2L1004.4 662.6M946.5 739.2L980.6 757.3M980.6 757.3L1038.5 682.2M1004.4 662.6L1038.5 682.2"/>
<path class="v" d="M946.5 739.2h0M1004.4 662.6h0M1038.5 682.2h0M980.6 757.3h0"/>
<path d="M888.6 749.8L946.5 739.2L980.6 757.3L922.6 767.9Z" fill="#00008f" stroke="#00008f"/>
<path class="e" d="M888.6 749.8L946.5 739.2M888.6 749.8L922.6 767.9M922.6 767.9L980.6 757.3M946.5 739.2L980.6 757.3"/>
<path class="v" d="M888.6 749.8h0M946.5 739.2h0M980.6 757.3h0M922.6 767.9h0"/>
<path d="M830.7 760.4L888.6 749.8L922.6 767.9L864.7 778.5Z" fill="#00008f" stroke="#00008f"/>
<path class="e" d="M830.7 760.4L888.6 749.8M830.7 760.4L864.7 778.5M864.7 778.5L922.6 767.9M888.6 749.8L922.6 767.9"/>
<path class="v" d="M830.7 760.4h0M888.6 749.8h0M922.6 767.9h0M864.7 778.5h0"/>
<path d="M772.7 771L830.7 760.4L864.7 778.5L806.8 789.1Z" fill="#00008f" stroke="#00008f"/>
<path class="e" d="M772.7 771L830.7 760.4M772.7 771L806.8 789.1M806.8 789.1L864.7 778.5M830.7 760.4L864.7 778.5"/>
<path class="v" d="M772.7 771h0M830.7 760.4h0M864.7 778.5h0M806.8 789.1h0"/>
<path d="M714.8 781.6L772.7 771L806.8 789.1L748.9 799.7Z" fill="#00008f" stroke="#00008f"/>
<path class="e" d="M714.8 781.6L772.7 771M714.8 781.6L748.9 799.7M748.9 799.7L806.8 789.1M772.7 771L806.8 789.1"/>
<path class="v" d="M714.8 781.6h0M772.7 771h0M806.8 789.1h0M748.9 799.7h0"/>
<path d="M656.9 792.2L714.8 781.6L748.9 799.7L691 810.3Z" fill="#00008f" stroke="#00008f"/>
<path class="e" d="M656.9 792.2L714.8 781.6M656.9 792.2L691 810.3M691 810.3L748.9 799.7M714.8 781.6L748.9 799.7"/>
<path class="v" d="M656.9 792.2h0M714.8 781.6h0M748.9 799.7h0M691 810.3h0"/>
<path d="M599 802.8L656.9 792.2L691 810.3L633 820.9Z" fill="#00008f" stroke="#00008f"/>
<path class="e" d="M599 802.8L656.9 792.2M599 802.8L633 820.9M633 820.9L691 810.3M656.9 792.2L691 810.3"/>
<path class="v" d="M599 802.8h0M656.9 792.2h0M691 810.3h0M633 820.9h0"/>
<path d="M541 813.4L599 802.8L633 820.9L575.1 831.5Z" fill="#00008f" stroke="#00008f"/>
<path class="e" d="M541 813.4L599 802.8M541 813.4L575.1 831.5M575.1 831.5L633 820.9M599 802.8L633 820.9"/>
<path class="v" d="M541 813.4h0M599 802.8h0M633 820.9h0M575.1 831.5h0"/>
<path d="M1328.1 611.2L1386 683.2L1362.2 630.6Z" fill="url(#g253)" stroke="url(#g253)"/>
<path d="M1386 683.2L1420.1 701.3L1362.2 630.6Z" fill="url(#g254)" stroke="url(#g254)"/>
<path class="e" d="M1328.1 611.2L1386 683.2M1328.1 611.2L1362.2 630.6M1362.2 630.6L1420.1 701.3M1386 683.2L1420.1 701.3"/>
<path class="v" d="M1328.1 611.2h0M1386 683.2h0M1420.1 701.3h0M1362.2 630.6h0"/>
<path d="M1270.2 540.7L1328.1 611.2L1304.2 562.7Z" fill="url(#g255)" stroke="url(#g255)"/>
<path d="M1328.1 611.2L1362.2 630.6L1304.2 562.7Z" fill="url(#g256)" stroke="url(#g256)"/>
<path class="e" d="M1270.2 540.7L1328.1 611.2M1270.2 540.7L1304.2 562.7M1304.2 562.7L1362.2 630.6M1328.1 611.2L1362.2 630.6"/>
<path class="v" d="M1270.2 540.7h0M1328.1 611.2h0M1362.2 630.6h0M1304.2 562.7h0"/>
<path d="M1212.2 471.5L1270.2 540.7L1246.3 495.4Z" fill="url(#g257)" stroke="url(#g257)"/>
<path d="M1270.2 540.7L1304.2 562.7L1246.3 495.4Z" fill="url(#g258)" stroke="url(#g258)"/>
<path class="e" d="M1212.2 471.5L1270.2 540.7M1212.2 471.5L1246.3 495.4M1246.3 495.4L1304.2 562.7M1270.2 540.7L1304.2 562.7"/>
<path class="v" d="M1212.2 471.5h0M1270.2 540.7h0M1304.2 562.7h0M1246.3 495.4h0"/>
<path d="M1154.3 498.8L1212.2 471.5L1188.4 521.8Z" fill="url(#g259)" stroke="url(#g259)"/>
<path d="M1212.2 471.5L1246.3 495.4L1188.4 521.8Z" fill="url(#g260)" stroke="url(#g260)"/>
<path class="e" d="M1154.3 498.8L1212.2 471.5M1154.3 498.8L1188.4 521.8M1188.4 521.8L1246.3 495.4M1212.2 471.5L1246.3 495.4"/>
<path class="v" d="M1154.3 498.8h0M1212.2 471.5h0M1246.3 495.4h0M1188.4 521.8h0"/>
<path d="M1096.4 595.7L1154.3 498.8L1130.5 616.4Z" fill="url(#g261)" stroke="url(#g261)"/>
<path d="M1154.3 498.8L1188.4 521.8L1130.5 616.4Z" fill="url(#g262)" stroke="url(#g262)"/>
<path class="e" d="M1096.4 595.7L1154.3 498.8M1096.4 595.7L1130.5 616.4M1130.5 616.4L1188.4 521.8M1154.3 498.8L1188.4 521.8"/>
<path class="v" d="M1096.4 595.7h0M1154.3 498.8h0M1188.4 521.8h0M1130.5 616.4h0"/>
<path d="M1038.5 682.2L1096.4 595.7L1072.5 701.3Z" fill="url(#g263)" stroke="url(#g263)"/>
<path d="M1096.4 595.7L1130.5 616.4L1072.5 701.3Z" fill="url(#g264)" stroke="url(#g264)"/>
<path class="e" d="M1038.5 682.2L1096.4 595.7M1038.5 682.2L1072.5 701.3M1072.5 701.3L1130.5 616.4M1096.4 595.7L1130.5 616.4"/>
<path class="v" d="M1038.5 682.2h0M1096.4 595.7h0M1130.5 616.4h0M1072.5 701.3h0"/>
<path d="M980.6 757.3L1038.5 682.2L1014.6 775.4Z" fill="url(#g265)" stroke="url(#g265)"/>
<path d="M1038.5 682.2L1072.5 701.3L1014.6 775.4Z" fill="url(#g266)" stroke="url(#g266)"/>
<path class="e" d="M980.6 757.3L1038.5 682.2M980.6 757.3L1014.6 775.4M1014.6 775.4L1072.5 701.3M1038.5 682.2L1072.5 701.3"/>
<path class="v" d="M980.6 757.3h0M1038.5 682.2h0M1072.5 701.3h0M1014.6 775.4h0"/>
<path d="M922.6 767.9L980.6 757.3L1014.6 775.4L956.7 786Z" fill="#00008f" stroke="#00008f"/>
<path class="e" d="M922.6 767.9L980.6 757.3M922.6 767.9L956.7 786M956.7 786L1014.6 775.4M980.6 757.3L1014.6 775.4"/>
<path class="v" d="M922.6 767.9h0M980.6 757.3h0M1014.6 775.4h0M956.7 786h0"/>
<path d="M864.7 778.5L922.6 767.9L956.7 786L898.8 796.6Z" fill="#00008f" stroke="#00008f"/>
<path class="e" d="M864.7 778.5L922.6 767.9M864.7 778.5L898.8 796.6M898.8 796.6L956.7 786M922.6 767.9L956.7 786"/>
<path class="v" d="M864.7 778.5h0M922.6 767.9h0M956.7 786h0M898.8 796.6h0"/>
<path d="M806.8 789.1L864.7 778.5L898.8 796.6L840.9 807.2Z" fill="#00008f" stroke="#00008f"/>
<path class="e" d="M806.8 789.1L864.7 778.5M806.8 789.1L840.9 807.2M840.9 807.2L898.8 796.6M864.7 778.5L898.8 796.6"/>
<path class="v" d="M806.8 789.1h0M864.7 778.5h0M898.8 796.6h0M840.9 807.2h0"/>
<path d="M748.9 799.7L806.8 789.1L840.9 807.2L782.9 817.8Z" fill="#00008f" stroke="#00008f"/>
<path class="e" d="M748.9 799.7L806.8 789.1M748.9 799.7L782.9 817.8M782.9 817.8L840.9 807.2M806.8 789.1L840.9 807.2"/>
<path class="v" d="M748.9 799.7h0M806.8 789.1h0M840.9 807.2h0M782.9 817.8h0"/>
<path d="M691 810.3L748.9 799.7L782.9 817.8L725 828.4Z" fill="#00008f" stroke="#00008f"/>
<path class="e" d="M691 810.3L748.9 799.7M691 810.3L725 828.4M725 828.4L782.9 817.8M748.9 799.7L782.9 817.8"/>
<path class="v" d="M691 810.3h0M748.9 799.7h0M782.9 817.8h0M725 828.4h0"/>
<path d="M633 820.9L691 810.3L725 828.4L667.1 839Z" fill="#00008f" stroke="#00008f"/>
<path class="e" d="M633 820.9L691 810.3M633 820.9L667.1 839M667.1 839L725 828.4M691 810.3L725 828.4"/>
<path class="v" d="M633 820.9h0M691 810.3h0M725 828.4h0M667.1 839h0"/>
<path d="M575.1 831.5L633 820.9L667.1 839L609.2 849.6Z" fill="#00008f" stroke="#00008f"/>
<path class="e" d="M575.1 831.5L633 820.9M575.1 831.5L609.2 849.6M609.2 849.6L667.1 839M633 820.9L667.1 839"/>
<path class="v" d="M575.1 831.5h0M633 820.9h0M667.1 839h0M609.2 849.6h0"/>
<path d="M1362.2 630.6L1420.1 701.3L1396.2 651.3Z" fill="url(#g267)" stroke="url(#g267)"/>
<path d="M1420.1 701.3L1454.1 719.4L1396.2 651.3Z" fill="url(#g268)" stroke="url(#g268)"/>
<path class="e" d="M1362.2 630.6L1420.1 701.3M1362.2 630.6L1396.2 651.3M1396.2 651.3L1454.1 719.4M1420.1 701.3L1454.1 719.4"/>
<path class="v" d="M1362.2 630.6h0M1420.1 701.3h0M1454.1 719.4h0M1396.2 651.3h0"/>
<path d="M1304.2 562.7L1362.2 630.6L1338.3 584.7Z" fill="url(#g269)" stroke="url(#g269)"/>
<path d="M1362.2 630.6L1396.2 651.3L1338.3 584.7Z" fill="url(#g270)" stroke="url(#g270)"/>
<path class="e" d="M1304.2 562.7L1362.2 630.6M1304.2 562.7L1338.3 584.7M1338.3 584.7L1396.2 651.3M1362.2 630.6L1396.2 651.3"/>
<path class="v" d="M1304.2 562.7h0M1362.2 630.6h0M1396.2 651.3h0M1338.3 584.7h0"/>
<path d="M1246.3 495.4L1304.2 562.7L1280.4 519.3Z" fill="url(#g271)" stroke="url(#g271)"/>
<path d="M1304.2 562.7L1338.3 584.7L1280.4 519.3Z" fill="url(#g272)" stroke="url(#g272)"/>
<path class="e" d="M1246.3 495.4L1304.2 562.7M1246.3 495.4L1280.4 519.3M1280.4 519.3L1338.3 584.7M1304.2 562.7L1338.3 584.7"/>
<path class="v" d="M1246.3 495.4h0M1304.2 562.7h0M1338.3 584.7h0M1280.4 519.3h0"/>
<path d="M1188.4 521.8L1246.3 495.4L1222.4 544.7Z" fill="url(#g273)" stroke="url(#g273)"/>
<path d="M1246.3 495.4L1280.4 519.3L1222.4 544.7Z" fill="url(#g274)" stroke="url(#g274)"/>
<path class="e" d="M1188.4 521.8L1246.3 495.4M1188.4 521.8L1222.4 544.7M1222.4 544.7L1280.4 519.3M1246.3 495.4L1280.4 519.3"/>
<path class="v" d="M1188.4 521.8h0M1246.3 495.4h0M1280.4 519.3h0M1222.4 544.7h0"/>
<path d="M1130.5 616.4L1188.4 521.8L1164.5 639Z" fill="url(#g275)" stroke="url(#g275)"/>
<path d="M1188.4 521.8L1222.4 544.7L1164.5 639Z" fill="url(#g276)" stroke="url(#g276)"/>
<path class="e" d="M1130.5 616.4L1188.4 521.8M1130.5 616.4L1164.5 639M1164.5 639L1222.4 544.7M1188.4 521.8L1222.4 544.7"/>
<path class="v" d="M1130.5 616.4h0M1188.4 521.8h0M1222.4 544.7h0M1164.5 639h0"/>
<path d="M1072.5 701.3L1130.5 616.4L1106.6 722Z" fill="url(#g277)" stroke="url(#g277)"/>
<path d="M1130.5 616.4L1164.5 639L1106.6 722Z" fill="url(#g278)" stroke="url(#g278)"/>
<path class="e" d="M1072.5 701.3L1130.5 616.4M1072.5 701.3L1106.6 722M1106.6 722L1164.5 639M1130.5 616.4L1164.5 639"/>
<path class="v" d="M1072.5 701.3h0M1130.5 616.4h0M1164.5 639h0M1106.6 722h0"/>
<path d="M1014.6 775.4L1072.5 701.3L1048.7 793.5Z" fill="url(#g279)" stroke="url(#g279)"/>
<path d="M1072.5 701.3L1106.6 722L1048.7 793.5Z" fill="url(#g280)" stroke="url(#g280)"/>
<path class="e" d="M1014.6 775.4L1072.5 701.3M1014.6 775.4L1048.7 793.5M1048.7 793.5L1106.6 722M1072.5 701.3L1106.6 722"/>
<path class="v" d="M1014.6 775.4h0M1072.5 701.3h0M1106.6 722h0M1048.7 793.5h0"/>
<path d="M956.7 786L1014.6 775.4L1048.7 793.5L990.8 804.1Z" fill="#00008f" stroke="#00008f"/>
<path class="e" d="M956.7 786L1014.6 775.4M956.7 786L990.8 804.1M990.8 804.1L1048.7 793.5M1014.6 775.4L1048.7 793.5"/>
<path class="v" d="M956.7 786h0M1014.6 775.4h0M1048.7 793.5h0M990.8 804.1h0"/>
<path d="M898.8 796.6L956.7 786L990.8 804.1L932.8 814.7Z" fill="#00008f" stroke="#00008f"/>
<path class="e" d="M898.8 796.6L956.7 786M898.8 796.6L932.8 814.7M932.8 814.7L990.8 804.1M956.7 786L990.8 804.1"/>
<path class="v" d="M898.8 796.6h0M956.7 786h0M990.8 804.1h0M932.8 814.7h0"/>
<path d="M840.9 807.2L898.8 796.6L932.8 814.7L874.9 825.3Z" fill="#00008f" stroke="#00008f"/>
<path class="e" d="M840.9 807.2L898.8 796.6M840.9 807.2L874.9 825.3M874.9 825.3L932.8 814.7M898.8 796.6L932.8 814.7"/>
<path class="v" d="M840.9 807.2h0M898.8 796.6h0M932.8 814.7h0M874.9 825.3h0"/>
<path d="M782.9 817.8L840.9 807.2L874.9 825.3L817 835.9Z" fill="#00008f" stroke="#00008f"/>
<path class="e" d="M782.9 817.8L840.9 807.2M782.9 817.8L817 835.9M817 835.9L874.9 825.3M840.9 807.2L874.9 825.3"/>
<path class="v" d="M782.9 817.8h0M840.9 807.2h0M874.9 825.3h0M817 835.9h0"/>
<path d="M725 828.4L782.9 817.8L817 835.9L759.1 846.5Z" fill="#00008f" stroke="#00008f"/>
<path class="e" d="M725 828.4L782.9 817.8M725 828.4L759.1 846.5M759.1 846.5L817 835.9M782.9 817.8L817 835.9"/>
<path class="v" d="M725 828.4h0M782.9 817.8h0M817 835.9h0M759.1 846.5h0"/>
<path d="M667.1 839L725 828.4L759.1 846.5L701.2 857.1Z" fill="#00008f" stroke="#00008f"/>
<path class="e" d="M667.1 839L725 828.4M667.1 839L701.2 857.1M701.2 857.1L759.1 846.5M725 828.4L759.1 846.5"/>
<path class="v" d="M667.1 839h0M725 828.4h0M759.1 846.5h0M701.2 857.1h0"/>
<path d="M609.2 849.6L667.1 839L701.2 857.1L643.2 867.7Z" fill="#00008f" stroke="#00008f"/>
<path class="e" d="M609.2 849.6L667.1 839M609.2 849.6L643.2 867.7M643.2 867.7L701.2 857.1M667.1 839L701.2 857.1"/>
<path class="v" d="M609.2 849.6h0M667.1 839h0M701.2 857.1h0M643.2 867.7h0"/>
<path d="M1396.2 651.3L1454.1 719.4L1430.3 670.7Z" fill="url(#g281)" stroke="url(#g281)"/>
<path d="M1454.1 719.4L1488.2 737.5L1430.3 670.7Z" fill="url(#g282)" stroke="url(#g282)"/>
<path class="e" d="M1396.2 651.3L1454.1 719.4M1396.2 651.3L1430.3 670.7M1430.3 670.7L1488.2 737.5M1454.1 719.4L1488.2 737.5"/>
<path class="v" d="M1396.2 651.3h0M1454.1 719.4h0M1488.2 737.5h0M1430.3 670.7h0"/>
<path d="M1338.3 584.7L1396.2 651.3L1372.4 606.7Z" fill="url(#g283)" stroke="url(#g283)"/>
<path d="M1396.2 651.3L1430.3 670.7L1372.4 606.7Z" fill="url(#g284)" stroke="url(#g284)"/>
<path class="e" d="M1338.3 584.7L1396.2 651.3M1338.3 584.7L1372.4 606.7M1372.4 606.7L1430.3 670.7M1396.2 651.3L1430.3 670.7"/>
<path class="v" d="M1338.3 584.7h0M1396.2 651.3h0M1430.3 670.7h0M1372.4 606.7h0"/>
<path d="M1280.4 519.3L1338.3 584.7L1314.4 542.6Z" fill="url(#g285)" stroke="url(#g285)"/>
<path d="M1338.3 584.7L1372.4 606.7L1314.4 542.6Z" fill="url(#g286)" stroke="url(#g286)"/>
<path class="e" d="M1280.4 519.3L1338.3 584.7M1280.4 519.3L1314.4 542.6M1314.4 542.6L1372.4 606.7M1338.3 584.7L1372.4 606.7"/>
<path class="v" d="M1280.4 519.3h0M1338.3 584.7h0M1372.4 606.7h0M1314.4 542.6h0"/>
<path d="M1222.4 544.7L1280.4 519.3L1256.5 567.6Z" fill="url(#g287)" stroke="url(#g287)"/>
<path d="M1280.4 519.3L1314.4 542.6L1256.5 567.6Z" fill="url(#g288)" stroke="url(#g288)"/>
<path class="e" d="M1222.4 544.7L1280.4 519.3M1222.4 544.7L1256.5 567.6M1256.5 567.6L1314.4 542.6M1280.4 519.3L1314.4 542.6"/>
<path class="v" d="M1222.4 544.7h0M1280.4 519.3h0M1314.4 542.6h0M1256.5 567.6h0"/>
<path d="M1164.5 639L1222.4 544.7L1198.6 657.7Z" fill="url(#g289)" stroke="url(#g289)"/>
<path d="M1222.4 544.7L1256.5 567.6L1198.6 657.7Z" fill="url(#g290)" stroke="url(#g290)"/>
<path class="e" d="M1164.5 639L1222.4 544.7M1164.5 639L1198.6 657.7M1198.6 657.7L1256.5 567.6M1222.4 544.7L1256.5 567.6"/>
<path class="v" d="M1164.5 639h0M1222.4 544.7h0M1256.5 567.6h0M1198.6 657.7h0"/>
<path d="M1106.6 722L1164.5 639L1140.7 734.3Z" fill="url(#g291)" stroke="url(#g291)"/>
<path d="M1164.5 639L1198.6 657.7L1140.7 734.3Z" fill="url(#g292)" stroke="url(#g292)"/>
<path class="e" d="M1106.6 722L1164.5 639M1106.6 722L1140.7 734.3M1140.7 734.3L1198.6 657.7M1164.5 639L1198.6 657.7"/>
<path class="v" d="M1106.6 722h0M1164.5 639h0M1198.6 657.7h0M1140.7 734.3h0"/>
<path d="M1048.7 793.5L1106.6 722L1082.8 811.6Z" fill="url(#g293)" stroke="url(#g293)"/>
<path d="M1106.6 722L1140.7 734.3L1082.8 811.6Z" fill="url(#g294)" stroke="url(#g294)"/>
<path class="e" d="M1048.7 793.5L1106.6 722M1048.7 793.5L1082.8 811.6M1082.8 811.6L1140.7 734.3M1106.6 722L1140.7 734.3"/>
<path class="v" d="M1048.7 793.5h0M1106.6 722h0M1140.7 734.3h0M1082.8 811.6h0"/>
<path d="M990.8 804.1L1048.7 793.5L1082.8 811.6L1024.8 822.2Z" fill="#00008f" stroke="#00008f"/>
<path class="e" d="M990.8 804.1L1048.7 793.5M990.8 804.1L1024.8 822.2M1024.8 822.2L1082.8 811.6M1048.7 793.5L1082.8 811.6"/>
<path class="v" d="M990.8 804.1h0M1048.7 793.5h0M1082.8 811.6h0M1024.8 822.2h0"/>
<path d="M932.8 814.7L990.8 804.1L1024.8 822.2L966.9 832.8Z" fill="#00008f" stroke="#00008f"/>
<path class="e" d="M932.8 814.7L990.8 804.1M932.8 814.7L966.9 832.8M966.9 832.8L1024.8 822.2M990.8 804.1L1024.8 822.2"/>
<path class="v" d="M932.8 814.7h0M990.8 804.1h0M1024.8 822.2h0M966.9 832.8h0"/>
<path d="M874.9 825.3L932.8 814.7L966.9 832.8L909 843.4Z" fill="#00008f" stroke="#00008f"/>
<path class="e" d="M874.9 825.3L932.8 814.7M874.9 825.3L909 843.4M909 843.4L966.9 832.8M932.8 814.7L966.9 832.8"/>
<path class="v" d="M874.9 825.3h0M932.8 814.7h0M966.9 832.8h0M909 843.4h0"/>
<path d="M817 835.9L874.9 825.3L909 843.4L851.1 854Z" fill="#00008f" stroke="#00008f"/>
<path class="e" d="M817 835.9L874.9 825.3M817 835.9L851.1 854M851.1 854L909 843.4M874.9 825.3L909 843.4"/>
<path class="v" d="M817 835.9h0M874.9 825.3h0M909 843.4h0M851.1 854h0"/>
<path d="M759.1 846.5L817 835.9L851.1 854L793.1 864.6Z" fill="#00008f" stroke="#00008f"/>
<path class="e" d="M759.1 846.5L817 835.9M759.1 846.5L793.1 864.6M793.1 864.6L851.1 854M817 835.9L851.1 854"/>
<path class="v" d="M759.1 846.5h0M817 835.9h0M851.1 854h0M793.1 864.6h0"/>
<path d="M701.2 857.1L759.1 846.5L793.1 864.6L735.2 875.2Z" fill="#00008f" stroke="#00008f"/>
<path class="e" d="M701.2 857.1L759.1 846.5M701.2 857.1L735.2 875.2M735.2 875.2L793.1 864.6M759.1 846.5L793.1 864.6"/>
<path class="v" d="M701.2 857.1h0M759.1 846.5h0M793.1 864.6h0M735.2 875.2h0"/>
<path d="M643.2 867.7L701.2 857.1L735.2 875.2L677.3 885.8Z" fill="#00008f" stroke="#00008f"/>
<path class="e" d="M643.2 867.7L701.2 857.1M643.2 867.7L677.3 885.8M677.3 885.8L735.2 875.2M701.2 857.1L735.2 875.2"/>
<path class="v" d="M643.2 867.7h0M701.2 857.1h0M735.2 875.2h0M677.3 885.8h0"/></g>
<g font-size="57.5"><text transform="translate(162.6 182.2) scale(0.945 1)" text-anchor="end">35</text><text transform="translate(162.6 272.5) scale(0.945 1)" text-anchor="end">28</text><text transform="translate(162.6 362.9) scale(0.945 1)" text-anchor="end">21</text><text transform="translate(163.8 453.2) scale(0.945 1)" text-anchor="end">14</text><text transform="translate(162.6 543.6) scale(0.945 1)" text-anchor="end">7</text><text transform="translate(163.8 633.9) scale(0.945 1)" text-anchor="end">0</text><text transform="translate(160.3 690.6) scale(0.945 1)" text-anchor="end">20</text><text transform="translate(319.1 775.2) scale(0.945 1)" text-anchor="end">40</text><text transform="translate(477.9 859.7) scale(0.945 1)" text-anchor="end">60</text><text transform="translate(636.7 944.3) scale(0.945 1)" text-anchor="end">80</text><text transform="translate(713 956.8) scale(0.945 1)">400</text><text transform="translate(915.9 919.3) scale(0.945 1)">600</text><text transform="translate(1118.7 881.8) scale(0.945 1)">800</text><text transform="translate(1324 844.3) scale(0.945 1)">1000</text><text transform="translate(1526.9 806.8) scale(0.945 1)">1200</text><text transform="translate(281.5 982.3) scale(0.945 1)"><tspan font-style="italic">T</tspan> <tspan x="47.1">(</tspan><tspan x="71.4" dy="-26.3" font-size="44">°</tspan><tspan x="85.7" dy="26.3">C)</tspan></text><text transform="translate(1075.5 1003.3) scale(0.955 1)"><tspan font-style="italic">G</tspan> <tspan x="54.5">(W/m</tspan><tspan x="189" dy="-27.3" font-size="43">2</tspan><tspan x="212.6" dy="27.3">)</tspan></text><text transform="translate(55.7 513.5) rotate(-90) scale(0.9 1)"><tspan font-style="italic">V</tspan><tspan x="35" dy="26.5" font-size="45" font-style="italic" letter-spacing="1.9">MPP</tspan> <tspan x="151.1" dy="-26.5">(V)</tspan></text></g>
</svg></body></html>
